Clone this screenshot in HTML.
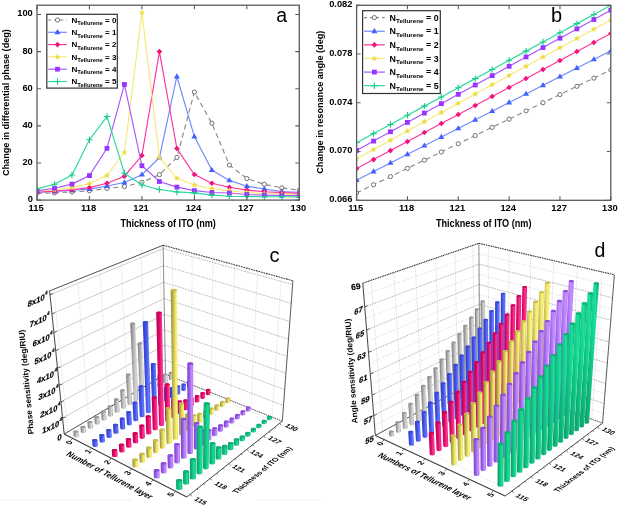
<!DOCTYPE html>
<html><head><meta charset="utf-8"><style>
html,body{margin:0;padding:0;background:#fff;width:620px;height:507px;overflow:hidden}
svg{display:block;filter:blur(0.25px)}
</style></head><body>
<svg width="620" height="507" viewBox="0 0 620 507" font-family='"Liberation Sans", sans-serif' fill="#000"><rect width="620" height="507" fill="#fff"/><g><clipPath id="clip37"><rect x="37" y="5.2" width="262.3" height="194.9"/></clipPath><g clip-path="url(#clip37)"><path d="M37.00,193.42L54.49,192.86L71.97,191.93L89.46,190.82L106.95,188.41L124.43,186.55L141.92,182.28L159.41,174.67L176.89,157.41L194.38,92.07L211.87,123.25L229.35,165.02L246.84,178.57L264.33,184.32L281.81,187.85L299.30,190.26" fill="none" stroke="#8a8a8a" stroke-width="1.15" stroke-dasharray="5,3.5"/><circle cx="37.00" cy="193.42" r="2.10" fill="#fff" stroke="#707070" stroke-width="1"/><circle cx="54.49" cy="192.86" r="2.10" fill="#fff" stroke="#707070" stroke-width="1"/><circle cx="71.97" cy="191.93" r="2.10" fill="#fff" stroke="#707070" stroke-width="1"/><circle cx="89.46" cy="190.82" r="2.10" fill="#fff" stroke="#707070" stroke-width="1"/><circle cx="106.95" cy="188.41" r="2.10" fill="#fff" stroke="#707070" stroke-width="1"/><circle cx="124.43" cy="186.55" r="2.10" fill="#fff" stroke="#707070" stroke-width="1"/><circle cx="141.92" cy="182.28" r="2.10" fill="#fff" stroke="#707070" stroke-width="1"/><circle cx="159.41" cy="174.67" r="2.10" fill="#fff" stroke="#707070" stroke-width="1"/><circle cx="176.89" cy="157.41" r="2.10" fill="#fff" stroke="#707070" stroke-width="1"/><circle cx="194.38" cy="92.07" r="2.10" fill="#fff" stroke="#707070" stroke-width="1"/><circle cx="211.87" cy="123.25" r="2.10" fill="#fff" stroke="#707070" stroke-width="1"/><circle cx="229.35" cy="165.02" r="2.10" fill="#fff" stroke="#707070" stroke-width="1"/><circle cx="246.84" cy="178.57" r="2.10" fill="#fff" stroke="#707070" stroke-width="1"/><circle cx="264.33" cy="184.32" r="2.10" fill="#fff" stroke="#707070" stroke-width="1"/><circle cx="281.81" cy="187.85" r="2.10" fill="#fff" stroke="#707070" stroke-width="1"/><circle cx="299.30" cy="190.26" r="2.10" fill="#fff" stroke="#707070" stroke-width="1"/><path d="M37.00,192.12L54.49,191.38L71.97,190.26L89.46,189.15L106.95,185.99L124.43,182.47L141.92,174.67L159.41,157.59L176.89,76.48L194.38,136.62L211.87,170.03L229.35,180.42L246.84,186.18L264.33,188.96L281.81,191.56L299.30,192.30" fill="none" stroke="#7088ff" stroke-width="1.15"/><path d="M37.00,188.92L40.04,194.04L33.96,194.04Z" fill="#4060ff"/><path d="M54.49,188.18L57.53,193.30L51.45,193.30Z" fill="#4060ff"/><path d="M71.97,187.06L75.01,192.18L68.93,192.18Z" fill="#4060ff"/><path d="M89.46,185.95L92.50,191.07L86.42,191.07Z" fill="#4060ff"/><path d="M106.95,182.79L109.99,187.91L103.91,187.91Z" fill="#4060ff"/><path d="M124.43,179.27L127.47,184.39L121.39,184.39Z" fill="#4060ff"/><path d="M141.92,171.47L144.96,176.59L138.88,176.59Z" fill="#4060ff"/><path d="M159.41,154.39L162.45,159.51L156.37,159.51Z" fill="#4060ff"/><path d="M176.89,73.28L179.93,78.40L173.85,78.40Z" fill="#4060ff"/><path d="M194.38,133.42L197.42,138.54L191.34,138.54Z" fill="#4060ff"/><path d="M211.87,166.83L214.91,171.95L208.83,171.95Z" fill="#4060ff"/><path d="M229.35,177.22L232.39,182.34L226.31,182.34Z" fill="#4060ff"/><path d="M246.84,182.98L249.88,188.10L243.80,188.10Z" fill="#4060ff"/><path d="M264.33,185.76L267.37,190.88L261.29,190.88Z" fill="#4060ff"/><path d="M281.81,188.36L284.85,193.48L278.77,193.48Z" fill="#4060ff"/><path d="M299.30,189.10L302.34,194.22L296.26,194.22Z" fill="#4060ff"/><path d="M37.00,192.30L54.49,191.19L71.97,189.71L89.46,187.66L106.95,183.21L124.43,176.16L141.92,155.55L159.41,51.60L176.89,148.50L194.38,174.48L211.87,183.21L229.35,187.29L246.84,190.08L264.33,191.75L281.81,192.68L299.30,193.42" fill="none" stroke="#ff3399" stroke-width="1.15"/><path d="M37.00,189.50L39.80,192.30L37.00,195.10L34.20,192.30Z" fill="#f0147f"/><path d="M54.49,188.39L57.29,191.19L54.49,193.99L51.69,191.19Z" fill="#f0147f"/><path d="M71.97,186.91L74.77,189.71L71.97,192.51L69.17,189.71Z" fill="#f0147f"/><path d="M89.46,184.86L92.26,187.66L89.46,190.46L86.66,187.66Z" fill="#f0147f"/><path d="M106.95,180.41L109.75,183.21L106.95,186.01L104.15,183.21Z" fill="#f0147f"/><path d="M124.43,173.36L127.23,176.16L124.43,178.96L121.63,176.16Z" fill="#f0147f"/><path d="M141.92,152.75L144.72,155.55L141.92,158.35L139.12,155.55Z" fill="#f0147f"/><path d="M159.41,48.80L162.21,51.60L159.41,54.40L156.61,51.60Z" fill="#f0147f"/><path d="M176.89,145.70L179.69,148.50L176.89,151.30L174.09,148.50Z" fill="#f0147f"/><path d="M194.38,171.68L197.18,174.48L194.38,177.28L191.58,174.48Z" fill="#f0147f"/><path d="M211.87,180.41L214.67,183.21L211.87,186.01L209.07,183.21Z" fill="#f0147f"/><path d="M229.35,184.49L232.15,187.29L229.35,190.09L226.55,187.29Z" fill="#f0147f"/><path d="M246.84,187.28L249.64,190.08L246.84,192.88L244.04,190.08Z" fill="#f0147f"/><path d="M264.33,188.95L267.13,191.75L264.33,194.55L261.53,191.75Z" fill="#f0147f"/><path d="M281.81,189.88L284.61,192.68L281.81,195.48L279.01,192.68Z" fill="#f0147f"/><path d="M299.30,190.62L302.10,193.42L299.30,196.22L296.50,193.42Z" fill="#f0147f"/><path d="M37.00,191.19L54.49,189.71L71.97,187.66L89.46,183.77L106.95,175.60L124.43,152.40L141.92,12.62L159.41,157.59L176.89,178.20L194.38,185.06L211.87,188.78L229.35,190.82L246.84,192.49L264.33,193.60L281.81,194.16L299.30,194.53" fill="none" stroke="#f4ea78" stroke-width="1.15"/><path d="M37.00,187.89L37.87,189.99L40.14,190.17L38.41,191.65L38.94,193.86L37.00,192.68L35.06,193.86L35.59,191.65L33.86,190.17L36.13,189.99Z" fill="#eedd44"/><path d="M54.49,186.41L55.36,188.50L57.63,188.69L55.90,190.16L56.43,192.38L54.49,191.19L52.55,192.38L53.07,190.16L51.35,188.69L53.61,188.50Z" fill="#eedd44"/><path d="M71.97,184.36L72.85,186.46L75.11,186.64L73.39,188.12L73.91,190.33L71.97,189.15L70.03,190.33L70.56,188.12L68.83,186.64L71.10,186.46Z" fill="#eedd44"/><path d="M89.46,180.47L90.33,182.56L92.60,182.75L90.87,184.22L91.40,186.44L89.46,185.25L87.52,186.44L88.05,184.22L86.32,182.75L88.59,182.56Z" fill="#eedd44"/><path d="M106.95,172.30L107.82,174.40L110.09,174.58L108.36,176.06L108.89,178.27L106.95,177.08L105.01,178.27L105.53,176.06L103.81,174.58L106.07,174.40Z" fill="#eedd44"/><path d="M124.43,149.10L125.31,151.19L127.57,151.38L125.85,152.85L126.37,155.07L124.43,153.88L122.49,155.07L123.02,152.85L121.29,151.38L123.56,151.19Z" fill="#eedd44"/><path d="M141.92,9.32L142.79,11.42L145.06,11.61L143.33,13.08L143.86,15.29L141.92,14.11L139.98,15.29L140.51,13.08L138.78,11.61L141.05,11.42Z" fill="#eedd44"/><path d="M159.41,154.29L160.28,156.39L162.55,156.57L160.82,158.05L161.35,160.26L159.41,159.08L157.47,160.26L157.99,158.05L156.27,156.57L158.53,156.39Z" fill="#eedd44"/><path d="M176.89,174.90L177.77,177.00L180.03,177.18L178.31,178.66L178.83,180.87L176.89,179.68L174.95,180.87L175.48,178.66L173.75,177.18L176.02,177.00Z" fill="#eedd44"/><path d="M194.38,181.76L195.25,183.86L197.52,184.05L195.79,185.52L196.32,187.73L194.38,186.55L192.44,187.73L192.97,185.52L191.24,184.05L193.51,183.86Z" fill="#eedd44"/><path d="M211.87,185.48L212.74,187.58L215.01,187.76L213.28,189.24L213.81,191.45L211.87,190.26L209.93,191.45L210.45,189.24L208.73,187.76L210.99,187.58Z" fill="#eedd44"/><path d="M229.35,187.52L230.23,189.62L232.49,189.80L230.77,191.28L231.29,193.49L229.35,192.30L227.41,193.49L227.94,191.28L226.21,189.80L228.48,189.62Z" fill="#eedd44"/><path d="M246.84,189.19L247.71,191.29L249.98,191.47L248.25,192.95L248.78,195.16L246.84,193.97L244.90,195.16L245.43,192.95L243.70,191.47L245.97,191.29Z" fill="#eedd44"/><path d="M264.33,190.30L265.20,192.40L267.47,192.58L265.74,194.06L266.27,196.27L264.33,195.09L262.39,196.27L262.91,194.06L261.19,192.58L263.45,192.40Z" fill="#eedd44"/><path d="M281.81,190.86L282.69,192.96L284.95,193.14L283.23,194.62L283.75,196.83L281.81,195.65L279.87,196.83L280.40,194.62L278.67,193.14L280.94,192.96Z" fill="#eedd44"/><path d="M299.30,191.23L300.17,193.33L302.44,193.51L300.71,194.99L301.24,197.20L299.30,196.02L297.36,197.20L297.89,194.99L296.16,193.51L298.43,193.33Z" fill="#eedd44"/><path d="M37.00,190.82L54.49,188.22L71.97,184.14L89.46,175.60L106.95,148.31L124.43,84.46L141.92,165.76L159.41,181.54L176.89,187.11L194.38,190.63L211.87,192.49L229.35,193.05L246.84,194.53L264.33,195.09L281.81,195.46L299.30,195.65" fill="none" stroke="#a855ff" stroke-width="1.15"/><rect x="34.60" y="188.42" width="4.80" height="4.80" fill="#9933ff"/><rect x="52.09" y="185.82" width="4.80" height="4.80" fill="#9933ff"/><rect x="69.57" y="181.74" width="4.80" height="4.80" fill="#9933ff"/><rect x="87.06" y="173.20" width="4.80" height="4.80" fill="#9933ff"/><rect x="104.55" y="145.91" width="4.80" height="4.80" fill="#9933ff"/><rect x="122.03" y="82.06" width="4.80" height="4.80" fill="#9933ff"/><rect x="139.52" y="163.36" width="4.80" height="4.80" fill="#9933ff"/><rect x="157.01" y="179.14" width="4.80" height="4.80" fill="#9933ff"/><rect x="174.49" y="184.71" width="4.80" height="4.80" fill="#9933ff"/><rect x="191.98" y="188.23" width="4.80" height="4.80" fill="#9933ff"/><rect x="209.47" y="190.09" width="4.80" height="4.80" fill="#9933ff"/><rect x="226.95" y="190.65" width="4.80" height="4.80" fill="#9933ff"/><rect x="244.44" y="192.13" width="4.80" height="4.80" fill="#9933ff"/><rect x="261.93" y="192.69" width="4.80" height="4.80" fill="#9933ff"/><rect x="279.41" y="193.06" width="4.80" height="4.80" fill="#9933ff"/><rect x="296.90" y="193.25" width="4.80" height="4.80" fill="#9933ff"/><path d="M37.00,188.96L54.49,184.32L71.97,175.04L89.46,139.77L106.95,116.57L124.43,173.19L141.92,185.06L159.41,189.52L176.89,191.93L194.38,192.86L211.87,195.09L229.35,196.20L246.84,196.57L264.33,196.76L281.81,196.76L299.30,196.94" fill="none" stroke="#2ad9a0" stroke-width="1.15"/><path d="M33.80,188.96H40.20M37.00,185.76V192.16" stroke="#18c98a" stroke-width="1.1" fill="none"/><path d="M51.29,184.32H57.69M54.49,181.12V187.52" stroke="#18c98a" stroke-width="1.1" fill="none"/><path d="M68.77,175.04H75.17M71.97,171.84V178.24" stroke="#18c98a" stroke-width="1.1" fill="none"/><path d="M86.26,139.77H92.66M89.46,136.57V142.97" stroke="#18c98a" stroke-width="1.1" fill="none"/><path d="M103.75,116.57H110.15M106.95,113.37V119.77" stroke="#18c98a" stroke-width="1.1" fill="none"/><path d="M121.23,173.19H127.63M124.43,169.99V176.39" stroke="#18c98a" stroke-width="1.1" fill="none"/><path d="M138.72,185.06H145.12M141.92,181.86V188.26" stroke="#18c98a" stroke-width="1.1" fill="none"/><path d="M156.21,189.52H162.61M159.41,186.32V192.72" stroke="#18c98a" stroke-width="1.1" fill="none"/><path d="M173.69,191.93H180.09M176.89,188.73V195.13" stroke="#18c98a" stroke-width="1.1" fill="none"/><path d="M191.18,192.86H197.58M194.38,189.66V196.06" stroke="#18c98a" stroke-width="1.1" fill="none"/><path d="M208.67,195.09H215.07M211.87,191.89V198.29" stroke="#18c98a" stroke-width="1.1" fill="none"/><path d="M226.15,196.20H232.55M229.35,193.00V199.40" stroke="#18c98a" stroke-width="1.1" fill="none"/><path d="M243.64,196.57H250.04M246.84,193.37V199.77" stroke="#18c98a" stroke-width="1.1" fill="none"/><path d="M261.13,196.76H267.53M264.33,193.56V199.96" stroke="#18c98a" stroke-width="1.1" fill="none"/><path d="M278.61,196.76H285.01M281.81,193.56V199.96" stroke="#18c98a" stroke-width="1.1" fill="none"/><path d="M296.10,196.94H302.50M299.30,193.74V200.14" stroke="#18c98a" stroke-width="1.1" fill="none"/></g><rect x="37" y="5.2" width="262.3" height="194.9" fill="none" stroke="#5c5c5c" stroke-width="1.3"/><text x="36.10" y="210.7" text-anchor="middle" font-size="9.4" font-weight="bold">115</text><text x="88.56" y="210.7" text-anchor="middle" font-size="9.4" font-weight="bold">118</text><text x="141.02" y="210.7" text-anchor="middle" font-size="9.4" font-weight="bold">121</text><text x="193.48" y="210.7" text-anchor="middle" font-size="9.4" font-weight="bold">124</text><text x="245.94" y="210.7" text-anchor="middle" font-size="9.4" font-weight="bold">127</text><text x="298.40" y="210.7" text-anchor="middle" font-size="9.4" font-weight="bold">130</text><text x="32.80" y="202.00" text-anchor="end" font-size="9.3" font-weight="bold">0</text><text x="32.80" y="164.88" text-anchor="end" font-size="9.3" font-weight="bold">20</text><text x="32.80" y="127.75" text-anchor="end" font-size="9.3" font-weight="bold">40</text><text x="32.80" y="90.63" text-anchor="end" font-size="9.3" font-weight="bold">60</text><text x="32.80" y="53.50" text-anchor="end" font-size="9.3" font-weight="bold">80</text><text x="32.80" y="16.38" text-anchor="end" font-size="9.3" font-weight="bold">100</text><path d="M37.00,200.1v-4M37.00,5.2v4M89.46,200.1v-4M89.46,5.2v4M141.92,200.1v-4M141.92,5.2v4M194.38,200.1v-4M194.38,5.2v4M246.84,200.1v-4M246.84,5.2v4M299.30,200.1v-4M299.30,5.2v4M37,200.10h4M299.3,200.10h-4M37,162.98h4M299.3,162.98h-4M37,125.85h4M299.3,125.85h-4M37,88.73h4M299.3,88.73h-4M37,51.60h4M299.3,51.60h-4M37,14.48h4M299.3,14.48h-4" stroke="#5c5c5c" stroke-width="1.1"/><text x="168.15" y="227.2" text-anchor="middle" font-size="10" font-weight="bold" textLength="95.5" lengthAdjust="spacingAndGlyphs">Thickness of ITO (nm)</text><text transform="translate(8.9,102.6) rotate(-90)" x="0" y="0" text-anchor="middle" font-size="9.4" font-weight="bold" textLength="147" lengthAdjust="spacingAndGlyphs">Change in differential phase (deg)</text><rect x="46.8" y="14.3" width="70.5" height="73.8" fill="#fff" stroke="#333" stroke-width="1.2"/><path d="M48.2,20.00H66.8" stroke="#8a8a8a" stroke-width="1.2" stroke-dasharray="3,3"/><circle cx="57.50" cy="20.00" r="2.10" fill="#fff" stroke="#707070" stroke-width="1"/><text x="71.5" y="22.88" font-size="8.0" font-weight="bold" textLength="45" lengthAdjust="spacingAndGlyphs">N<tspan font-size="5.8" dy="2.40">Tellurene</tspan><tspan dy="-2.40"> = 0</tspan></text><path d="M48.2,32.30H66.8" stroke="#7088ff" stroke-width="1.2"/><path d="M57.50,29.10L60.54,34.22L54.46,34.22Z" fill="#4060ff"/><text x="71.5" y="35.18" font-size="8.0" font-weight="bold" textLength="45" lengthAdjust="spacingAndGlyphs">N<tspan font-size="5.8" dy="2.40">Tellurene</tspan><tspan dy="-2.40"> = 1</tspan></text><path d="M48.2,44.60H66.8" stroke="#ff3399" stroke-width="1.2"/><path d="M57.50,41.80L60.30,44.60L57.50,47.40L54.70,44.60Z" fill="#f0147f"/><text x="71.5" y="47.48" font-size="8.0" font-weight="bold" textLength="45" lengthAdjust="spacingAndGlyphs">N<tspan font-size="5.8" dy="2.40">Tellurene</tspan><tspan dy="-2.40"> = 2</tspan></text><path d="M48.2,56.90H66.8" stroke="#f4ea78" stroke-width="1.2"/><path d="M57.50,53.60L58.37,55.70L60.64,55.88L58.91,57.36L59.44,59.57L57.50,58.39L55.56,59.57L56.09,57.36L54.36,55.88L56.63,55.70Z" fill="#eedd44"/><text x="71.5" y="59.78" font-size="8.0" font-weight="bold" textLength="45" lengthAdjust="spacingAndGlyphs">N<tspan font-size="5.8" dy="2.40">Tellurene</tspan><tspan dy="-2.40"> = 3</tspan></text><path d="M48.2,69.20H66.8" stroke="#a855ff" stroke-width="1.2"/><rect x="55.10" y="66.80" width="4.80" height="4.80" fill="#9933ff"/><text x="71.5" y="72.08" font-size="8.0" font-weight="bold" textLength="45" lengthAdjust="spacingAndGlyphs">N<tspan font-size="5.8" dy="2.40">Tellurene</tspan><tspan dy="-2.40"> = 4</tspan></text><path d="M48.2,81.50H66.8" stroke="#2ad9a0" stroke-width="1.2"/><path d="M54.30,81.50H60.70M57.50,78.30V84.70" stroke="#18c98a" stroke-width="1.1" fill="none"/><text x="71.5" y="84.38" font-size="8.0" font-weight="bold" textLength="45" lengthAdjust="spacingAndGlyphs">N<tspan font-size="5.8" dy="2.40">Tellurene</tspan><tspan dy="-2.40"> = 5</tspan></text><text x="276.2" y="21.8" font-size="19.5">a</text></g><g><clipPath id="clip356"><rect x="356.6" y="5.3" width="254.19999999999993" height="195.0"/></clipPath><g clip-path="url(#clip356)"><path d="M356.60,192.99L373.55,184.78L390.49,176.58L407.44,168.37L424.39,160.16L441.33,151.96L458.28,143.75L475.23,135.54L492.17,127.34L509.12,119.13L526.07,110.93L543.01,102.72L559.96,94.51L576.91,86.31L593.85,78.10L610.80,69.89" fill="none" stroke="#8a8a8a" stroke-width="1.15" stroke-dasharray="5,3.5"/><circle cx="356.60" cy="192.99" r="2.10" fill="#fff" stroke="#707070" stroke-width="1"/><circle cx="373.55" cy="184.78" r="2.10" fill="#fff" stroke="#707070" stroke-width="1"/><circle cx="390.49" cy="176.58" r="2.10" fill="#fff" stroke="#707070" stroke-width="1"/><circle cx="407.44" cy="168.37" r="2.10" fill="#fff" stroke="#707070" stroke-width="1"/><circle cx="424.39" cy="160.16" r="2.10" fill="#fff" stroke="#707070" stroke-width="1"/><circle cx="441.33" cy="151.96" r="2.10" fill="#fff" stroke="#707070" stroke-width="1"/><circle cx="458.28" cy="143.75" r="2.10" fill="#fff" stroke="#707070" stroke-width="1"/><circle cx="475.23" cy="135.54" r="2.10" fill="#fff" stroke="#707070" stroke-width="1"/><circle cx="492.17" cy="127.34" r="2.10" fill="#fff" stroke="#707070" stroke-width="1"/><circle cx="509.12" cy="119.13" r="2.10" fill="#fff" stroke="#707070" stroke-width="1"/><circle cx="526.07" cy="110.93" r="2.10" fill="#fff" stroke="#707070" stroke-width="1"/><circle cx="543.01" cy="102.72" r="2.10" fill="#fff" stroke="#707070" stroke-width="1"/><circle cx="559.96" cy="94.51" r="2.10" fill="#fff" stroke="#707070" stroke-width="1"/><circle cx="576.91" cy="86.31" r="2.10" fill="#fff" stroke="#707070" stroke-width="1"/><circle cx="593.85" cy="78.10" r="2.10" fill="#fff" stroke="#707070" stroke-width="1"/><circle cx="610.80" cy="69.89" r="2.10" fill="#fff" stroke="#707070" stroke-width="1"/><path d="M356.60,180.19L373.55,171.56L390.49,162.93L407.44,154.30L424.39,145.68L441.33,137.05L458.28,128.42L475.23,119.79L492.17,111.16L509.12,102.53L526.07,93.90L543.01,85.27L559.96,76.65L576.91,68.02L593.85,59.39L610.80,50.76" fill="none" stroke="#7088ff" stroke-width="1.15"/><path d="M356.60,176.99L359.64,182.11L353.56,182.11Z" fill="#4060ff"/><path d="M373.55,168.36L376.59,173.48L370.51,173.48Z" fill="#4060ff"/><path d="M390.49,159.73L393.53,164.85L387.45,164.85Z" fill="#4060ff"/><path d="M407.44,151.10L410.48,156.22L404.40,156.22Z" fill="#4060ff"/><path d="M424.39,142.48L427.43,147.60L421.35,147.60Z" fill="#4060ff"/><path d="M441.33,133.85L444.37,138.97L438.29,138.97Z" fill="#4060ff"/><path d="M458.28,125.22L461.32,130.34L455.24,130.34Z" fill="#4060ff"/><path d="M475.23,116.59L478.27,121.71L472.19,121.71Z" fill="#4060ff"/><path d="M492.17,107.96L495.21,113.08L489.13,113.08Z" fill="#4060ff"/><path d="M509.12,99.33L512.16,104.45L506.08,104.45Z" fill="#4060ff"/><path d="M526.07,90.70L529.11,95.82L523.03,95.82Z" fill="#4060ff"/><path d="M543.01,82.07L546.05,87.19L539.97,87.19Z" fill="#4060ff"/><path d="M559.96,73.45L563.00,78.57L556.92,78.57Z" fill="#4060ff"/><path d="M576.91,64.82L579.95,69.94L573.87,69.94Z" fill="#4060ff"/><path d="M593.85,56.19L596.89,61.31L590.81,61.31Z" fill="#4060ff"/><path d="M610.80,47.56L613.84,52.68L607.76,52.68Z" fill="#4060ff"/><path d="M356.60,168.61L373.55,159.60L390.49,150.59L407.44,141.58L424.39,132.57L441.33,123.56L458.28,114.55L475.23,105.54L492.17,96.53L509.12,87.52L526.07,78.51L543.01,69.50L559.96,60.49L576.91,51.47L593.85,42.46L610.80,33.45" fill="none" stroke="#ff3399" stroke-width="1.15"/><path d="M356.60,165.81L359.40,168.61L356.60,171.41L353.80,168.61Z" fill="#f0147f"/><path d="M373.55,156.80L376.35,159.60L373.55,162.40L370.75,159.60Z" fill="#f0147f"/><path d="M390.49,147.79L393.29,150.59L390.49,153.39L387.69,150.59Z" fill="#f0147f"/><path d="M407.44,138.78L410.24,141.58L407.44,144.38L404.64,141.58Z" fill="#f0147f"/><path d="M424.39,129.77L427.19,132.57L424.39,135.37L421.59,132.57Z" fill="#f0147f"/><path d="M441.33,120.76L444.13,123.56L441.33,126.36L438.53,123.56Z" fill="#f0147f"/><path d="M458.28,111.75L461.08,114.55L458.28,117.35L455.48,114.55Z" fill="#f0147f"/><path d="M475.23,102.74L478.03,105.54L475.23,108.34L472.43,105.54Z" fill="#f0147f"/><path d="M492.17,93.73L494.97,96.53L492.17,99.33L489.37,96.53Z" fill="#f0147f"/><path d="M509.12,84.72L511.92,87.52L509.12,90.32L506.32,87.52Z" fill="#f0147f"/><path d="M526.07,75.71L528.87,78.51L526.07,81.31L523.27,78.51Z" fill="#f0147f"/><path d="M543.01,66.70L545.81,69.50L543.01,72.30L540.21,69.50Z" fill="#f0147f"/><path d="M559.96,57.69L562.76,60.49L559.96,63.29L557.16,60.49Z" fill="#f0147f"/><path d="M576.91,48.67L579.71,51.47L576.91,54.27L574.11,51.47Z" fill="#f0147f"/><path d="M593.85,39.66L596.65,42.46L593.85,45.26L591.05,42.46Z" fill="#f0147f"/><path d="M610.80,30.65L613.60,33.45L610.80,36.25L608.00,33.45Z" fill="#f0147f"/><path d="M356.60,158.86L373.55,149.60L390.49,140.34L407.44,131.07L424.39,121.81L441.33,112.55L458.28,103.29L475.23,94.03L492.17,84.76L509.12,75.50L526.07,66.24L543.01,56.98L559.96,47.71L576.91,38.45L593.85,29.19L610.80,19.93" fill="none" stroke="#f4ea78" stroke-width="1.15"/><path d="M356.60,155.56L357.47,157.66L359.74,157.84L358.01,159.32L358.54,161.53L356.60,160.35L354.66,161.53L355.19,159.32L353.46,157.84L355.73,157.66Z" fill="#eedd44"/><path d="M373.55,146.30L374.42,148.40L376.69,148.58L374.96,150.06L375.49,152.27L373.55,151.09L371.61,152.27L372.13,150.06L370.41,148.58L372.67,148.40Z" fill="#eedd44"/><path d="M390.49,137.04L391.37,139.14L393.63,139.32L391.91,140.80L392.43,143.01L390.49,141.82L388.55,143.01L389.08,140.80L387.35,139.32L389.62,139.14Z" fill="#eedd44"/><path d="M407.44,127.77L408.31,129.87L410.58,130.06L408.85,131.53L409.38,133.74L407.44,132.56L405.50,133.74L406.03,131.53L404.30,130.06L406.57,129.87Z" fill="#eedd44"/><path d="M424.39,118.51L425.26,120.61L427.53,120.79L425.80,122.27L426.33,124.48L424.39,123.30L422.45,124.48L422.97,122.27L421.25,120.79L423.51,120.61Z" fill="#eedd44"/><path d="M441.33,109.25L442.21,111.35L444.47,111.53L442.75,113.01L443.27,115.22L441.33,114.04L439.39,115.22L439.92,113.01L438.19,111.53L440.46,111.35Z" fill="#eedd44"/><path d="M458.28,99.99L459.15,102.09L461.42,102.27L459.69,103.75L460.22,105.96L458.28,104.77L456.34,105.96L456.87,103.75L455.14,102.27L457.41,102.09Z" fill="#eedd44"/><path d="M475.23,90.73L476.10,92.82L478.37,93.01L476.64,94.48L477.17,96.69L475.23,95.51L473.29,96.69L473.81,94.48L472.09,93.01L474.35,92.82Z" fill="#eedd44"/><path d="M492.17,81.46L493.05,83.56L495.31,83.74L493.59,85.22L494.11,87.43L492.17,86.25L490.23,87.43L490.76,85.22L489.03,83.74L491.30,83.56Z" fill="#eedd44"/><path d="M509.12,72.20L509.99,74.30L512.26,74.48L510.53,75.96L511.06,78.17L509.12,76.99L507.18,78.17L507.71,75.96L505.98,74.48L508.25,74.30Z" fill="#eedd44"/><path d="M526.07,62.94L526.94,65.04L529.21,65.22L527.48,66.70L528.01,68.91L526.07,67.72L524.13,68.91L524.65,66.70L522.93,65.22L525.19,65.04Z" fill="#eedd44"/><path d="M543.01,53.68L543.89,55.77L546.15,55.96L544.43,57.43L544.95,59.64L543.01,58.46L541.07,59.64L541.60,57.43L539.87,55.96L542.14,55.77Z" fill="#eedd44"/><path d="M559.96,44.41L560.83,46.51L563.10,46.69L561.37,48.17L561.90,50.38L559.96,49.20L558.02,50.38L558.55,48.17L556.82,46.69L559.09,46.51Z" fill="#eedd44"/><path d="M576.91,35.15L577.78,37.25L580.05,37.43L578.32,38.91L578.85,41.12L576.91,39.94L574.97,41.12L575.49,38.91L573.77,37.43L576.03,37.25Z" fill="#eedd44"/><path d="M593.85,25.89L594.73,27.99L596.99,28.17L595.27,29.65L595.79,31.86L593.85,30.67L591.91,31.86L592.44,29.65L590.71,28.17L592.98,27.99Z" fill="#eedd44"/><path d="M610.80,16.63L611.67,18.72L613.94,18.91L612.21,20.38L612.74,22.59L610.80,21.41L608.86,22.59L609.39,20.38L607.66,18.91L609.93,18.72Z" fill="#eedd44"/><path d="M356.60,150.45L373.55,141.10L390.49,131.75L407.44,122.40L424.39,113.05L441.33,103.69L458.28,94.34L475.23,84.99L492.17,75.64L509.12,66.29L526.07,56.93L543.01,47.58L559.96,38.23L576.91,28.88L593.85,19.53L610.80,10.17" fill="none" stroke="#a855ff" stroke-width="1.15"/><rect x="354.20" y="148.05" width="4.80" height="4.80" fill="#9933ff"/><rect x="371.15" y="138.70" width="4.80" height="4.80" fill="#9933ff"/><rect x="388.09" y="129.35" width="4.80" height="4.80" fill="#9933ff"/><rect x="405.04" y="120.00" width="4.80" height="4.80" fill="#9933ff"/><rect x="421.99" y="110.65" width="4.80" height="4.80" fill="#9933ff"/><rect x="438.93" y="101.29" width="4.80" height="4.80" fill="#9933ff"/><rect x="455.88" y="91.94" width="4.80" height="4.80" fill="#9933ff"/><rect x="472.83" y="82.59" width="4.80" height="4.80" fill="#9933ff"/><rect x="489.77" y="73.24" width="4.80" height="4.80" fill="#9933ff"/><rect x="506.72" y="63.89" width="4.80" height="4.80" fill="#9933ff"/><rect x="523.67" y="54.53" width="4.80" height="4.80" fill="#9933ff"/><rect x="540.61" y="45.18" width="4.80" height="4.80" fill="#9933ff"/><rect x="557.56" y="35.83" width="4.80" height="4.80" fill="#9933ff"/><rect x="574.51" y="26.48" width="4.80" height="4.80" fill="#9933ff"/><rect x="591.45" y="17.13" width="4.80" height="4.80" fill="#9933ff"/><rect x="608.40" y="7.77" width="4.80" height="4.80" fill="#9933ff"/><path d="M356.60,142.77L373.55,133.61L390.49,124.44L407.44,115.28L424.39,106.12L441.33,96.95L458.28,87.78L475.23,78.62L492.17,69.46L509.12,60.29L526.07,51.12L543.01,41.96L559.96,32.79L576.91,23.63L593.85,14.47L610.80,5.30" fill="none" stroke="#2ad9a0" stroke-width="1.15"/><path d="M353.40,142.77H359.80M356.60,139.57V145.97" stroke="#18c98a" stroke-width="1.1" fill="none"/><path d="M370.35,133.61H376.75M373.55,130.41V136.81" stroke="#18c98a" stroke-width="1.1" fill="none"/><path d="M387.29,124.44H393.69M390.49,121.24V127.64" stroke="#18c98a" stroke-width="1.1" fill="none"/><path d="M404.24,115.28H410.64M407.44,112.08V118.48" stroke="#18c98a" stroke-width="1.1" fill="none"/><path d="M421.19,106.12H427.59M424.39,102.92V109.32" stroke="#18c98a" stroke-width="1.1" fill="none"/><path d="M438.13,96.95H444.53M441.33,93.75V100.15" stroke="#18c98a" stroke-width="1.1" fill="none"/><path d="M455.08,87.78H461.48M458.28,84.58V90.98" stroke="#18c98a" stroke-width="1.1" fill="none"/><path d="M472.03,78.62H478.43M475.23,75.42V81.82" stroke="#18c98a" stroke-width="1.1" fill="none"/><path d="M488.97,69.46H495.37M492.17,66.26V72.66" stroke="#18c98a" stroke-width="1.1" fill="none"/><path d="M505.92,60.29H512.32M509.12,57.09V63.49" stroke="#18c98a" stroke-width="1.1" fill="none"/><path d="M522.87,51.12H529.27M526.07,47.92V54.33" stroke="#18c98a" stroke-width="1.1" fill="none"/><path d="M539.81,41.96H546.21M543.01,38.76V45.16" stroke="#18c98a" stroke-width="1.1" fill="none"/><path d="M556.76,32.79H563.16M559.96,29.59V35.99" stroke="#18c98a" stroke-width="1.1" fill="none"/><path d="M573.71,23.63H580.11M576.91,20.43V26.83" stroke="#18c98a" stroke-width="1.1" fill="none"/><path d="M590.65,14.47H597.05M593.85,11.27V17.67" stroke="#18c98a" stroke-width="1.1" fill="none"/><path d="M607.60,5.30H614.00M610.80,2.10V8.50" stroke="#18c98a" stroke-width="1.1" fill="none"/></g><rect x="356.6" y="5.3" width="254.19999999999993" height="195.0" fill="none" stroke="#5c5c5c" stroke-width="1.3"/><text x="355.70" y="210.7" text-anchor="middle" font-size="9.4" font-weight="bold">115</text><text x="406.54" y="210.7" text-anchor="middle" font-size="9.4" font-weight="bold">118</text><text x="457.38" y="210.7" text-anchor="middle" font-size="9.4" font-weight="bold">121</text><text x="508.22" y="210.7" text-anchor="middle" font-size="9.4" font-weight="bold">124</text><text x="559.06" y="210.7" text-anchor="middle" font-size="9.4" font-weight="bold">127</text><text x="609.90" y="210.7" text-anchor="middle" font-size="9.4" font-weight="bold">130</text><text x="352.40" y="202.20" text-anchor="end" font-size="9.3" font-weight="bold">0.066</text><text x="352.40" y="153.45" text-anchor="end" font-size="9.3" font-weight="bold">0.070</text><text x="352.40" y="104.70" text-anchor="end" font-size="9.3" font-weight="bold">0.074</text><text x="352.40" y="55.95" text-anchor="end" font-size="9.3" font-weight="bold">0.078</text><text x="352.40" y="7.20" text-anchor="end" font-size="9.3" font-weight="bold">0.082</text><path d="M356.60,200.3v-4M356.60,5.3v4M407.44,200.3v-4M407.44,5.3v4M458.28,200.3v-4M458.28,5.3v4M509.12,200.3v-4M509.12,5.3v4M559.96,200.3v-4M559.96,5.3v4M610.80,200.3v-4M610.80,5.3v4M356.6,200.30h4M610.8,200.30h-4M356.6,151.55h4M610.8,151.55h-4M356.6,102.80h4M610.8,102.80h-4M356.6,54.05h4M610.8,54.05h-4M356.6,5.30h4M610.8,5.30h-4" stroke="#5c5c5c" stroke-width="1.1"/><text x="483.70" y="227.2" text-anchor="middle" font-size="10" font-weight="bold" textLength="95.5" lengthAdjust="spacingAndGlyphs">Thickness of ITO (nm)</text><text transform="translate(322.7,102.2) rotate(-90)" x="0" y="0" text-anchor="middle" font-size="9.6" font-weight="bold" textLength="143" lengthAdjust="spacingAndGlyphs">Change in resonance angle (deg)</text><rect x="362.6" y="10.7" width="77.69999999999999" height="82.8" fill="#fff" stroke="#333" stroke-width="1.2"/><path d="M364.0,17.60H384.8" stroke="#8a8a8a" stroke-width="1.2" stroke-dasharray="3,3"/><circle cx="374.40" cy="17.60" r="2.10" fill="#fff" stroke="#707070" stroke-width="1"/><text x="389.6" y="20.73" font-size="8.7" font-weight="bold" textLength="49" lengthAdjust="spacingAndGlyphs">N<tspan font-size="6.2" dy="2.61">Tellurene</tspan><tspan dy="-2.61"> = 0</tspan></text><path d="M364.0,31.22H384.8" stroke="#7088ff" stroke-width="1.2"/><path d="M374.40,28.02L377.44,33.14L371.36,33.14Z" fill="#4060ff"/><text x="389.6" y="34.35" font-size="8.7" font-weight="bold" textLength="49" lengthAdjust="spacingAndGlyphs">N<tspan font-size="6.2" dy="2.61">Tellurene</tspan><tspan dy="-2.61"> = 1</tspan></text><path d="M364.0,44.84H384.8" stroke="#ff3399" stroke-width="1.2"/><path d="M374.40,42.04L377.20,44.84L374.40,47.64L371.60,44.84Z" fill="#f0147f"/><text x="389.6" y="47.97" font-size="8.7" font-weight="bold" textLength="49" lengthAdjust="spacingAndGlyphs">N<tspan font-size="6.2" dy="2.61">Tellurene</tspan><tspan dy="-2.61"> = 2</tspan></text><path d="M364.0,58.46H384.8" stroke="#f4ea78" stroke-width="1.2"/><path d="M374.40,55.16L375.27,57.26L377.54,57.44L375.81,58.92L376.34,61.13L374.40,59.95L372.46,61.13L372.99,58.92L371.26,57.44L373.53,57.26Z" fill="#eedd44"/><text x="389.6" y="61.59" font-size="8.7" font-weight="bold" textLength="49" lengthAdjust="spacingAndGlyphs">N<tspan font-size="6.2" dy="2.61">Tellurene</tspan><tspan dy="-2.61"> = 3</tspan></text><path d="M364.0,72.08H384.8" stroke="#a855ff" stroke-width="1.2"/><rect x="372.00" y="69.68" width="4.80" height="4.80" fill="#9933ff"/><text x="389.6" y="75.21" font-size="8.7" font-weight="bold" textLength="49" lengthAdjust="spacingAndGlyphs">N<tspan font-size="6.2" dy="2.61">Tellurene</tspan><tspan dy="-2.61"> = 4</tspan></text><path d="M364.0,85.70H384.8" stroke="#2ad9a0" stroke-width="1.2"/><path d="M371.20,85.70H377.60M374.40,82.50V88.90" stroke="#18c98a" stroke-width="1.1" fill="none"/><text x="389.6" y="88.83" font-size="8.7" font-weight="bold" textLength="49" lengthAdjust="spacingAndGlyphs">N<tspan font-size="6.2" dy="2.61">Tellurene</tspan><tspan dy="-2.61"> = 5</tspan></text><text x="551" y="21.8" font-size="20">b</text></g><defs><linearGradient id="bg0" x1="0" x2="1" y1="0" y2="0"><stop offset="0" stop-color="#787878"/><stop offset="0.4" stop-color="#b0b0b0"/><stop offset="0.75" stop-color="#dadada"/><stop offset="1" stop-color="#a2a2a2"/></linearGradient><linearGradient id="bg1" x1="0" x2="1" y1="0" y2="0"><stop offset="0" stop-color="#2c3cc8"/><stop offset="0.4" stop-color="#4050e0"/><stop offset="0.75" stop-color="#6678ff"/><stop offset="1" stop-color="#4a5cf0"/></linearGradient><linearGradient id="bg2" x1="0" x2="1" y1="0" y2="0"><stop offset="0" stop-color="#b4004c"/><stop offset="0.4" stop-color="#dc0866"/><stop offset="0.75" stop-color="#ff3492"/><stop offset="1" stop-color="#e81a78"/></linearGradient><linearGradient id="bg3" x1="0" x2="1" y1="0" y2="0"><stop offset="0" stop-color="#8e8a3e"/><stop offset="0.4" stop-color="#c8c050"/><stop offset="0.75" stop-color="#faf276"/><stop offset="1" stop-color="#eee460"/></linearGradient><linearGradient id="bg4" x1="0" x2="1" y1="0" y2="0"><stop offset="0" stop-color="#7a40c8"/><stop offset="0.4" stop-color="#9a5ee8"/><stop offset="0.75" stop-color="#c690ff"/><stop offset="1" stop-color="#b078f8"/></linearGradient><linearGradient id="bg5" x1="0" x2="1" y1="0" y2="0"><stop offset="0" stop-color="#0a9a62"/><stop offset="0.4" stop-color="#12c084"/><stop offset="0.75" stop-color="#16e69a"/><stop offset="1" stop-color="#0ca06a"/></linearGradient></defs><path d="M0,500.2H132M258,500.2H310M310,500.2H322" stroke="#f2f2f2" stroke-width="1"/><path d="M62.60,418.23L165.19,359.78" stroke="#c2c2c2" stroke-width="0.8" fill="none"/><path d="M60.94,401.98L164.92,345.00" stroke="#c2c2c2" stroke-width="0.8" fill="none"/><path d="M59.24,385.31L164.64,329.87" stroke="#c2c2c2" stroke-width="0.8" fill="none"/><path d="M57.49,368.18L164.36,314.39" stroke="#c2c2c2" stroke-width="0.8" fill="none"/><path d="M55.70,350.58L164.07,298.54" stroke="#c2c2c2" stroke-width="0.8" fill="none"/><path d="M53.86,332.50L163.77,282.32" stroke="#c2c2c2" stroke-width="0.8" fill="none"/><path d="M51.96,313.91L163.47,265.70" stroke="#c2c2c2" stroke-width="0.8" fill="none"/><path d="M50.01,294.79L163.16,248.67" stroke="#c2c2c2" stroke-width="0.8" fill="none"/><path d="M67.82,431.93L53.72,289.24" stroke="#c8c8c8" stroke-width="0.6" fill="none" stroke-dasharray="1,1"/><path d="M88.82,419.52L77.51,279.67" stroke="#c8c8c8" stroke-width="0.6" fill="none" stroke-dasharray="1,1"/><path d="M108.72,407.76L99.92,270.65" stroke="#c8c8c8" stroke-width="0.6" fill="none" stroke-dasharray="1,1"/><path d="M127.62,396.60L121.08,262.13" stroke="#c8c8c8" stroke-width="0.6" fill="none" stroke-dasharray="1,1"/><path d="M145.58,385.98L141.09,254.08" stroke="#c8c8c8" stroke-width="0.6" fill="none" stroke-dasharray="1,1"/><path d="M162.68,375.88L160.04,246.45" stroke="#c8c8c8" stroke-width="0.6" fill="none" stroke-dasharray="1,1"/><path d="M165.19,359.78L283.48,405.65" stroke="#a8a8a8" stroke-width="0.8" fill="none" stroke-dasharray="1.8,1"/><path d="M164.92,345.00L284.68,389.68" stroke="#a8a8a8" stroke-width="0.8" fill="none" stroke-dasharray="1.8,1"/><path d="M164.64,329.87L285.92,373.29" stroke="#a8a8a8" stroke-width="0.8" fill="none" stroke-dasharray="1.8,1"/><path d="M164.36,314.39L287.20,356.48" stroke="#a8a8a8" stroke-width="0.8" fill="none" stroke-dasharray="1.8,1"/><path d="M164.07,298.54L288.50,339.22" stroke="#a8a8a8" stroke-width="0.8" fill="none" stroke-dasharray="1.8,1"/><path d="M163.77,282.32L289.84,321.50" stroke="#a8a8a8" stroke-width="0.8" fill="none" stroke-dasharray="1.8,1"/><path d="M163.47,265.70L291.22,303.29" stroke="#a8a8a8" stroke-width="0.8" fill="none" stroke-dasharray="1.8,1"/><path d="M163.16,248.67L292.63,284.58" stroke="#a8a8a8" stroke-width="0.8" fill="none" stroke-dasharray="1.8,1"/><path d="M173.68,377.55L172.14,247.70" stroke="#c8c8c8" stroke-width="0.6" fill="none" stroke-dasharray="1,1"/><path d="M191.92,384.88L192.23,253.20" stroke="#c8c8c8" stroke-width="0.6" fill="none" stroke-dasharray="1,1"/><path d="M210.82,392.48L213.14,258.93" stroke="#c8c8c8" stroke-width="0.6" fill="none" stroke-dasharray="1,1"/><path d="M230.44,400.37L234.92,264.89" stroke="#c8c8c8" stroke-width="0.6" fill="none" stroke-dasharray="1,1"/><path d="M250.80,408.56L257.62,271.11" stroke="#c8c8c8" stroke-width="0.6" fill="none" stroke-dasharray="1,1"/><path d="M271.96,417.06L281.31,277.60" stroke="#c8c8c8" stroke-width="0.6" fill="none" stroke-dasharray="1,1"/><path d="M72.70,438.43L173.68,377.55" stroke="#d8d8d8" stroke-width="0.6" fill="none" stroke-dasharray="1.5,1"/><path d="M91.60,448.13L191.92,384.88" stroke="#d8d8d8" stroke-width="0.6" fill="none" stroke-dasharray="1.5,1"/><path d="M111.29,458.25L210.82,392.48" stroke="#d8d8d8" stroke-width="0.6" fill="none" stroke-dasharray="1.5,1"/><path d="M131.84,468.81L230.44,400.37" stroke="#d8d8d8" stroke-width="0.6" fill="none" stroke-dasharray="1.5,1"/><path d="M153.30,479.84L250.80,408.56" stroke="#d8d8d8" stroke-width="0.6" fill="none" stroke-dasharray="1.5,1"/><path d="M175.74,491.36L271.96,417.06" stroke="#d8d8d8" stroke-width="0.6" fill="none" stroke-dasharray="1.5,1"/><path d="M67.82,431.93L190.22,494.27" stroke="#d8d8d8" stroke-width="0.6" fill="none" stroke-dasharray="1.5,1"/><path d="M88.82,419.52L210.28,478.36" stroke="#d8d8d8" stroke-width="0.6" fill="none" stroke-dasharray="1.5,1"/><path d="M108.72,407.76L229.17,463.37" stroke="#d8d8d8" stroke-width="0.6" fill="none" stroke-dasharray="1.5,1"/><path d="M127.62,396.60L246.98,449.24" stroke="#d8d8d8" stroke-width="0.6" fill="none" stroke-dasharray="1.5,1"/><path d="M145.58,385.98L263.81,435.89" stroke="#d8d8d8" stroke-width="0.6" fill="none" stroke-dasharray="1.5,1"/><path d="M162.68,375.88L279.73,423.26" stroke="#d8d8d8" stroke-width="0.6" fill="none" stroke-dasharray="1.5,1"/><path d="M165.45,374.24L163.10,245.22" stroke="#8a8a8a" stroke-width="1.0" fill="none"/><path d="M64.21,434.06L165.45,374.24" stroke="#3a3a3a" stroke-width="0.9" fill="none"/><path d="M165.45,374.24L282.30,421.22" stroke="#3a3a3a" stroke-width="0.9" fill="none" stroke-dasharray="1.6,0.8"/><path d="M49.61,290.90L163.10,245.22" stroke="#505050" stroke-width="1.0" fill="none"/><path d="M163.10,245.22L292.92,280.78" stroke="#404040" stroke-width="1.1" fill="none" stroke-dasharray="1.8,0.8"/><path d="M282.30,421.22L292.92,280.78" stroke="#5a5a5a" stroke-width="1.0" fill="none"/><path d="M64.21,434.06L49.61,290.90" stroke="#444" stroke-width="1.0" fill="none"/><path d="M62.60,418.23L65.60,417.03" stroke="#444" stroke-width="0.8" fill="none"/><path d="M60.94,401.98L63.94,400.78" stroke="#444" stroke-width="0.8" fill="none"/><path d="M59.24,385.31L62.24,384.11" stroke="#444" stroke-width="0.8" fill="none"/><path d="M57.49,368.18L60.49,366.98" stroke="#444" stroke-width="0.8" fill="none"/><path d="M55.70,350.58L58.70,349.38" stroke="#444" stroke-width="0.8" fill="none"/><path d="M53.86,332.50L56.86,331.30" stroke="#444" stroke-width="0.8" fill="none"/><path d="M51.96,313.91L54.96,312.71" stroke="#444" stroke-width="0.8" fill="none"/><path d="M50.01,294.79L53.01,293.59" stroke="#444" stroke-width="0.8" fill="none"/><path d="M168.81,379.21L168.70,372.82A2.13,0.96 0 0 1 172.96,372.82L173.04,379.21A2.12,0.95 0 0 1 168.81,379.21Z" fill="url(#bg0)"/><ellipse cx="170.83" cy="372.82" rx="2.13" ry="0.96" fill="#9a9a9a"/><path d="M163.19,382.58L163.03,374.57A2.16,0.97 0 0 1 167.35,374.57L167.48,382.58A2.14,0.96 0 0 1 163.19,382.58Z" fill="url(#bg0)"/><ellipse cx="165.19" cy="374.57" rx="2.16" ry="0.97" fill="#9a9a9a"/><path d="M157.49,386.00L157.22,375.61A2.19,0.99 0 0 1 161.61,375.61L161.82,386.00A2.17,0.98 0 0 1 157.49,386.00Z" fill="url(#bg0)"/><ellipse cx="159.42" cy="375.61" rx="2.19" ry="0.99" fill="#9a9a9a"/><path d="M187.01,386.60L187.00,381.49A2.19,0.98 0 0 1 191.37,381.49L191.36,386.60A2.17,0.98 0 0 1 187.01,386.60Z" fill="url(#bg1)"/><ellipse cx="189.18" cy="381.49" rx="2.19" ry="0.98" fill="#3a4ad8"/><path d="M151.69,389.48L151.26,375.18A2.23,1.00 0 0 1 155.72,375.18L156.08,389.48A2.19,0.99 0 0 1 151.69,389.48Z" fill="url(#bg0)"/><ellipse cx="153.49" cy="375.18" rx="2.23" ry="1.00" fill="#9a9a9a"/><path d="M181.44,390.10L181.41,384.46A2.22,1.00 0 0 1 185.84,384.46L185.85,390.10A2.20,0.99 0 0 1 181.44,390.10Z" fill="url(#bg1)"/><ellipse cx="183.62" cy="384.46" rx="2.22" ry="1.00" fill="#3a4ad8"/><path d="M145.79,393.02L144.97,369.42A2.29,1.03 0 0 1 149.54,369.42L150.24,393.02A2.22,1.00 0 0 1 145.79,393.02Z" fill="url(#bg0)"/><ellipse cx="147.25" cy="369.42" rx="2.29" ry="1.03" fill="#9a9a9a"/><path d="M175.79,393.65L175.70,386.24A2.25,1.01 0 0 1 180.20,386.24L180.24,393.65A2.23,1.00 0 0 1 175.79,393.65Z" fill="url(#bg1)"/><ellipse cx="177.95" cy="386.24" rx="2.25" ry="1.01" fill="#3a4ad8"/><path d="M205.88,394.27L205.94,389.83A2.25,1.01 0 0 1 210.43,389.83L210.35,394.27A2.23,1.01 0 0 1 205.88,394.27Z" fill="url(#bg2)"/><ellipse cx="208.18" cy="389.83" rx="2.25" ry="1.01" fill="#d0005c"/><path d="M139.79,396.62L137.67,343.42A2.39,1.08 0 0 1 142.46,343.42L144.30,396.62A2.25,1.01 0 0 1 139.79,396.62Z" fill="url(#bg0)"/><ellipse cx="140.07" cy="343.42" rx="2.39" ry="1.08" fill="#9a9a9a"/><path d="M170.03,397.26L169.89,387.93A2.28,1.03 0 0 1 174.45,387.93L174.55,397.26A2.26,1.02 0 0 1 170.03,397.26Z" fill="url(#bg1)"/><ellipse cx="172.17" cy="387.93" rx="2.28" ry="1.03" fill="#3a4ad8"/><path d="M200.37,397.89L200.42,392.93A2.28,1.02 0 0 1 204.97,392.93L204.90,397.89A2.26,1.02 0 0 1 200.37,397.89Z" fill="url(#bg2)"/><ellipse cx="202.69" cy="392.93" rx="2.28" ry="1.02" fill="#d0005c"/><path d="M133.70,400.28L130.26,323.73A2.49,1.12 0 0 1 135.24,323.73L138.25,400.28A2.28,1.03 0 0 1 133.70,400.28Z" fill="url(#bg0)"/><ellipse cx="132.75" cy="323.73" rx="2.49" ry="1.12" fill="#9a9a9a"/><path d="M164.18,400.93L163.91,387.63A2.32,1.04 0 0 1 168.55,387.63L168.75,400.93A2.29,1.03 0 0 1 164.18,400.93Z" fill="url(#bg1)"/><ellipse cx="166.23" cy="387.63" rx="2.32" ry="1.04" fill="#3a4ad8"/><path d="M194.77,401.57L194.79,395.96A2.31,1.04 0 0 1 199.41,395.96L199.35,401.57A2.29,1.03 0 0 1 194.77,401.57Z" fill="url(#bg2)"/><ellipse cx="197.10" cy="395.96" rx="2.31" ry="1.04" fill="#d0005c"/><path d="M225.47,402.22L225.57,398.48A2.31,1.04 0 0 1 230.19,398.48L230.06,402.22A2.30,1.03 0 0 1 225.47,402.22Z" fill="url(#bg3)"/><ellipse cx="227.88" cy="398.48" rx="2.31" ry="1.04" fill="#c4bc4a"/><path d="M127.49,404.00L126.03,374.66A2.39,1.08 0 0 1 130.81,374.66L132.11,404.00A2.31,1.04 0 0 1 127.49,404.00Z" fill="url(#bg0)"/><ellipse cx="128.42" cy="374.66" rx="2.39" ry="1.08" fill="#9a9a9a"/><path d="M158.23,404.66L157.71,384.11A2.37,1.07 0 0 1 162.45,384.11L162.86,404.66A2.31,1.04 0 0 1 158.23,404.66Z" fill="url(#bg1)"/><ellipse cx="160.08" cy="384.11" rx="2.37" ry="1.07" fill="#3a4ad8"/><path d="M189.07,405.32L189.07,398.54A2.34,1.05 0 0 1 193.75,398.54L193.72,405.32A2.32,1.04 0 0 1 189.07,405.32Z" fill="url(#bg2)"/><ellipse cx="191.41" cy="398.54" rx="2.34" ry="1.05" fill="#d0005c"/><path d="M220.02,405.98L220.12,401.97A2.34,1.05 0 0 1 224.80,401.97L224.68,405.98A2.33,1.05 0 0 1 220.02,405.98Z" fill="url(#bg3)"/><ellipse cx="222.46" cy="401.97" rx="2.34" ry="1.05" fill="#c4bc4a"/><path d="M121.18,407.79L120.22,390.37A2.39,1.07 0 0 1 125.00,390.37L125.86,407.79A2.34,1.05 0 0 1 121.18,407.79Z" fill="url(#bg0)"/><ellipse cx="122.61" cy="390.37" rx="2.39" ry="1.07" fill="#9a9a9a"/><path d="M152.17,408.46L150.82,364.00A2.47,1.11 0 0 1 155.77,364.00L156.86,408.46A2.35,1.06 0 0 1 152.17,408.46Z" fill="url(#bg1)"/><ellipse cx="153.30" cy="364.00" rx="2.47" ry="1.11" fill="#3a4ad8"/><path d="M183.28,409.13L183.23,400.40A2.38,1.07 0 0 1 187.98,400.40L187.98,409.13A2.35,1.06 0 0 1 183.28,409.13Z" fill="url(#bg2)"/><ellipse cx="185.60" cy="400.40" rx="2.38" ry="1.07" fill="#d0005c"/><path d="M214.48,409.81L214.57,405.39A2.37,1.07 0 0 1 219.31,405.39L219.20,409.81A2.36,1.06 0 0 1 214.48,409.81Z" fill="url(#bg3)"/><ellipse cx="216.94" cy="405.39" rx="2.37" ry="1.07" fill="#c4bc4a"/><path d="M245.80,410.48L245.94,407.45A2.37,1.07 0 0 1 250.68,407.45L250.53,410.48A2.36,1.06 0 0 1 245.80,410.48Z" fill="url(#bg4)"/><ellipse cx="248.31" cy="407.45" rx="2.37" ry="1.07" fill="#8c4cdc"/><path d="M114.76,411.64L114.02,399.42A2.40,1.08 0 0 1 118.83,399.42L119.50,411.64A2.37,1.07 0 0 1 114.76,411.64Z" fill="url(#bg0)"/><ellipse cx="116.42" cy="399.42" rx="2.40" ry="1.08" fill="#9a9a9a"/><path d="M146.01,412.33L142.82,322.16A2.64,1.19 0 0 1 148.09,322.16L150.76,412.33A2.38,1.07 0 0 1 146.01,412.33Z" fill="url(#bg1)"/><ellipse cx="145.46" cy="322.16" rx="2.64" ry="1.19" fill="#3a4ad8"/><path d="M177.38,413.01L177.26,401.40A2.42,1.09 0 0 1 182.09,401.40L182.14,413.01A2.38,1.07 0 0 1 177.38,413.01Z" fill="url(#bg2)"/><ellipse cx="179.67" cy="401.40" rx="2.42" ry="1.09" fill="#d0005c"/><path d="M208.85,413.70L208.93,408.49A2.40,1.08 0 0 1 213.73,408.49L213.63,413.70A2.39,1.07 0 0 1 208.85,413.70Z" fill="url(#bg3)"/><ellipse cx="211.33" cy="408.49" rx="2.40" ry="1.08" fill="#c4bc4a"/><path d="M240.43,414.39L240.56,411.21A2.40,1.08 0 0 1 245.37,411.21L245.22,414.39A2.39,1.08 0 0 1 240.43,414.39Z" fill="url(#bg4)"/><ellipse cx="242.96" cy="411.21" rx="2.40" ry="1.08" fill="#8c4cdc"/><path d="M108.22,415.56L107.61,406.24A2.43,1.09 0 0 1 112.47,406.24L113.03,415.56A2.40,1.08 0 0 1 108.22,415.56Z" fill="url(#bg0)"/><ellipse cx="110.04" cy="406.24" rx="2.43" ry="1.09" fill="#9a9a9a"/><path d="M139.74,416.26L138.53,386.49A2.49,1.12 0 0 1 143.52,386.49L144.56,416.26A2.41,1.08 0 0 1 139.74,416.26Z" fill="url(#bg1)"/><ellipse cx="141.03" cy="386.49" rx="2.49" ry="1.12" fill="#3a4ad8"/><path d="M171.37,416.96L171.10,399.17A2.47,1.11 0 0 1 176.03,399.17L176.20,416.96A2.41,1.09 0 0 1 171.37,416.96Z" fill="url(#bg2)"/><ellipse cx="173.57" cy="399.17" rx="2.47" ry="1.11" fill="#d0005c"/><path d="M203.11,417.66L203.18,411.26A2.44,1.10 0 0 1 208.06,411.26L207.95,417.66A2.42,1.09 0 0 1 203.11,417.66Z" fill="url(#bg3)"/><ellipse cx="205.62" cy="411.26" rx="2.44" ry="1.10" fill="#c4bc4a"/><path d="M234.97,418.36L235.09,414.91A2.44,1.10 0 0 1 239.96,414.91L239.82,418.36A2.43,1.09 0 0 1 234.97,418.36Z" fill="url(#bg4)"/><ellipse cx="237.53" cy="414.91" rx="2.44" ry="1.10" fill="#8c4cdc"/><path d="M266.93,419.07L267.07,416.89A2.44,1.10 0 0 1 271.95,416.89L271.80,419.07A2.43,1.09 0 0 1 266.93,419.07Z" fill="url(#bg5)"/><ellipse cx="269.51" cy="416.89" rx="2.44" ry="1.10" fill="#10b078"/><path d="M101.57,419.55L100.99,411.47A2.46,1.11 0 0 1 105.91,411.47L106.44,419.55A2.43,1.09 0 0 1 101.57,419.55Z" fill="url(#bg0)"/><ellipse cx="103.45" cy="411.47" rx="2.46" ry="1.11" fill="#9a9a9a"/><path d="M133.36,420.26L132.55,402.52A2.49,1.12 0 0 1 137.53,402.52L138.24,420.26A2.44,1.10 0 0 1 133.36,420.26Z" fill="url(#bg1)"/><ellipse cx="135.04" cy="402.52" rx="2.49" ry="1.12" fill="#3a4ad8"/><path d="M165.26,420.97L164.52,384.39A2.56,1.15 0 0 1 169.63,384.39L170.15,420.97A2.45,1.10 0 0 1 165.26,420.97Z" fill="url(#bg2)"/><ellipse cx="167.08" cy="384.39" rx="2.56" ry="1.15" fill="#d0005c"/><path d="M197.27,421.69L197.32,413.83A2.48,1.11 0 0 1 202.27,413.83L202.18,421.69A2.45,1.10 0 0 1 197.27,421.69Z" fill="url(#bg3)"/><ellipse cx="199.79" cy="413.83" rx="2.48" ry="1.11" fill="#c4bc4a"/><path d="M229.40,422.40L229.52,418.55A2.47,1.11 0 0 1 234.47,418.55L234.32,422.40A2.46,1.11 0 0 1 229.40,422.40Z" fill="url(#bg4)"/><ellipse cx="231.99" cy="418.55" rx="2.47" ry="1.11" fill="#8c4cdc"/><path d="M261.64,423.12L261.78,420.81A2.47,1.11 0 0 1 266.72,420.81L266.58,423.12A2.47,1.11 0 0 1 261.64,423.12Z" fill="url(#bg5)"/><ellipse cx="264.25" cy="420.81" rx="2.47" ry="1.11" fill="#10b078"/><path d="M94.80,423.62L94.30,417.17A2.49,1.12 0 0 1 99.27,417.17L99.73,423.62A2.47,1.11 0 0 1 94.80,423.62Z" fill="url(#bg0)"/><ellipse cx="96.79" cy="417.17" rx="2.49" ry="1.12" fill="#9a9a9a"/><path d="M126.86,424.34L126.23,412.02A2.51,1.13 0 0 1 131.25,412.02L131.81,424.34A2.47,1.11 0 0 1 126.86,424.34Z" fill="url(#bg1)"/><ellipse cx="128.74" cy="412.02" rx="2.51" ry="1.13" fill="#3a4ad8"/><path d="M159.04,425.06L156.20,312.86A2.83,1.27 0 0 1 161.85,312.86L164.00,425.06A2.48,1.12 0 0 1 159.04,425.06Z" fill="url(#bg2)"/><ellipse cx="159.02" cy="312.86" rx="2.83" ry="1.27" fill="#d0005c"/><path d="M191.33,425.79L191.34,415.28A2.52,1.13 0 0 1 196.37,415.28L196.30,425.79A2.49,1.12 0 0 1 191.33,425.79Z" fill="url(#bg3)"/><ellipse cx="193.86" cy="415.28" rx="2.52" ry="1.13" fill="#c4bc4a"/><path d="M223.74,426.52L223.87,421.61A2.51,1.13 0 0 1 228.89,421.61L228.72,426.52A2.49,1.12 0 0 1 223.74,426.52Z" fill="url(#bg4)"/><ellipse cx="226.38" cy="421.61" rx="2.51" ry="1.13" fill="#8c4cdc"/><path d="M256.26,427.25L256.39,424.93A2.51,1.13 0 0 1 261.40,424.93L261.26,427.25A2.50,1.12 0 0 1 256.26,427.25Z" fill="url(#bg5)"/><ellipse cx="258.89" cy="424.93" rx="2.51" ry="1.13" fill="#10b078"/><path d="M87.91,427.75L87.43,422.05A2.52,1.13 0 0 1 92.47,422.05L92.91,427.75A2.50,1.12 0 0 1 87.91,427.75Z" fill="url(#bg0)"/><ellipse cx="89.95" cy="422.05" rx="2.52" ry="1.13" fill="#9a9a9a"/><path d="M120.25,428.49L119.68,418.60A2.54,1.14 0 0 1 124.76,418.60L125.26,428.49A2.51,1.13 0 0 1 120.25,428.49Z" fill="url(#bg1)"/><ellipse cx="122.22" cy="418.60" rx="2.54" ry="1.14" fill="#3a4ad8"/><path d="M152.70,429.23L151.73,397.40A2.61,1.18 0 0 1 156.95,397.40L157.73,429.23A2.51,1.13 0 0 1 152.70,429.23Z" fill="url(#bg2)"/><ellipse cx="154.34" cy="397.40" rx="2.61" ry="1.18" fill="#d0005c"/><path d="M185.28,429.97L185.21,414.50A2.57,1.16 0 0 1 190.35,414.50L190.32,429.97A2.52,1.13 0 0 1 185.28,429.97Z" fill="url(#bg3)"/><ellipse cx="187.78" cy="414.50" rx="2.57" ry="1.16" fill="#c4bc4a"/><path d="M217.97,430.71L218.09,425.38A2.54,1.14 0 0 1 223.18,425.38L223.02,430.71A2.53,1.14 0 0 1 217.97,430.71Z" fill="url(#bg4)"/><ellipse cx="220.63" cy="425.38" rx="2.54" ry="1.14" fill="#8c4cdc"/><path d="M250.78,431.46L250.90,428.99A2.54,1.14 0 0 1 255.98,428.99L255.85,431.46A2.53,1.14 0 0 1 250.78,431.46Z" fill="url(#bg5)"/><ellipse cx="253.44" cy="428.99" rx="2.54" ry="1.14" fill="#10b078"/><path d="M80.89,431.96L80.44,426.88A2.55,1.15 0 0 1 85.54,426.88L85.96,431.96A2.53,1.14 0 0 1 80.89,431.96Z" fill="url(#bg0)"/><ellipse cx="82.99" cy="426.88" rx="2.55" ry="1.15" fill="#9a9a9a"/><path d="M113.51,432.71L113.03,425.01A2.56,1.15 0 0 1 118.16,425.01L118.59,432.71A2.54,1.14 0 0 1 113.51,432.71Z" fill="url(#bg1)"/><ellipse cx="115.59" cy="425.01" rx="2.56" ry="1.15" fill="#3a4ad8"/><path d="M146.25,433.47L145.64,416.46A2.60,1.17 0 0 1 150.84,416.46L151.35,433.47A2.55,1.15 0 0 1 146.25,433.47Z" fill="url(#bg2)"/><ellipse cx="148.24" cy="416.46" rx="2.60" ry="1.17" fill="#d0005c"/><path d="M179.11,434.22L178.83,403.67A2.65,1.19 0 0 1 184.14,403.67L184.22,434.22A2.55,1.15 0 0 1 179.11,434.22Z" fill="url(#bg3)"/><ellipse cx="181.49" cy="403.67" rx="2.65" ry="1.19" fill="#c4bc4a"/><path d="M212.09,434.98L212.21,428.30A2.58,1.16 0 0 1 217.38,428.30L217.22,434.98A2.56,1.15 0 0 1 212.09,434.98Z" fill="url(#bg4)"/><ellipse cx="214.80" cy="428.30" rx="2.58" ry="1.16" fill="#8c4cdc"/><path d="M245.20,435.75L245.32,433.00A2.58,1.16 0 0 1 250.47,433.00L250.33,435.75A2.57,1.16 0 0 1 245.20,435.75Z" fill="url(#bg5)"/><ellipse cx="247.90" cy="433.00" rx="2.58" ry="1.16" fill="#10b078"/><path d="M73.74,436.25L73.29,431.54A2.58,1.16 0 0 1 78.46,431.54L78.88,436.25A2.57,1.16 0 0 1 73.74,436.25Z" fill="url(#bg0)"/><ellipse cx="75.87" cy="431.54" rx="2.58" ry="1.16" fill="#9a9a9a"/><path d="M106.65,437.02L106.17,430.06A2.60,1.17 0 0 1 111.37,430.06L111.80,437.02A2.58,1.16 0 0 1 106.65,437.02Z" fill="url(#bg1)"/><ellipse cx="108.77" cy="430.06" rx="2.60" ry="1.17" fill="#3a4ad8"/><path d="M139.68,437.79L139.18,425.77A2.62,1.18 0 0 1 144.43,425.77L144.85,437.79A2.58,1.16 0 0 1 139.68,437.79Z" fill="url(#bg2)"/><ellipse cx="141.80" cy="425.77" rx="2.62" ry="1.18" fill="#d0005c"/><path d="M172.83,438.56L170.71,290.25A3.08,1.38 0 0 1 176.86,290.25L178.01,438.56A2.59,1.17 0 0 1 172.83,438.56Z" fill="url(#bg3)"/><ellipse cx="173.79" cy="290.25" rx="3.08" ry="1.38" fill="#c4bc4a"/><path d="M206.11,439.33L206.23,430.09A2.63,1.18 0 0 1 211.48,430.09L211.30,439.33A2.60,1.17 0 0 1 206.11,439.33Z" fill="url(#bg4)"/><ellipse cx="208.86" cy="430.09" rx="2.63" ry="1.18" fill="#8c4cdc"/><path d="M239.51,440.11L239.65,436.56A2.62,1.18 0 0 1 244.89,436.56L244.72,440.11A2.60,1.17 0 0 1 239.51,440.11Z" fill="url(#bg5)"/><ellipse cx="242.27" cy="436.56" rx="2.62" ry="1.18" fill="#10b078"/><path d="M99.66,441.40L99.20,435.20A2.63,1.18 0 0 1 104.46,435.20L104.88,441.40A2.61,1.18 0 0 1 99.66,441.40Z" fill="url(#bg1)"/><ellipse cx="101.83" cy="435.20" rx="2.63" ry="1.18" fill="#3a4ad8"/><path d="M132.99,442.19L132.57,433.31A2.65,1.19 0 0 1 137.86,433.31L138.23,442.19A2.62,1.18 0 0 1 132.99,442.19Z" fill="url(#bg2)"/><ellipse cx="135.22" cy="433.31" rx="2.65" ry="1.19" fill="#d0005c"/><path d="M166.44,442.97L165.76,408.17A2.74,1.23 0 0 1 171.24,408.17L171.69,442.97A2.63,1.18 0 0 1 166.44,442.97Z" fill="url(#bg3)"/><ellipse cx="168.50" cy="408.17" rx="2.74" ry="1.23" fill="#c4bc4a"/><path d="M200.01,443.76L200.12,430.44A2.68,1.21 0 0 1 205.48,430.44L205.28,443.76A2.63,1.19 0 0 1 200.01,443.76Z" fill="url(#bg4)"/><ellipse cx="202.80" cy="430.44" rx="2.68" ry="1.21" fill="#8c4cdc"/><path d="M233.71,444.56L233.90,439.39A2.66,1.20 0 0 1 239.22,439.39L239.00,444.56A2.64,1.19 0 0 1 233.71,444.56Z" fill="url(#bg5)"/><ellipse cx="236.56" cy="439.39" rx="2.66" ry="1.20" fill="#10b078"/><path d="M92.54,445.87L92.08,440.16A2.67,1.20 0 0 1 97.42,440.16L97.84,445.87A2.65,1.19 0 0 1 92.54,445.87Z" fill="url(#bg1)"/><ellipse cx="94.75" cy="440.16" rx="2.67" ry="1.20" fill="#3a4ad8"/><path d="M126.17,446.67L125.77,439.22A2.68,1.21 0 0 1 131.13,439.22L131.48,446.67A2.66,1.20 0 0 1 126.17,446.67Z" fill="url(#bg2)"/><ellipse cx="128.45" cy="439.22" rx="2.68" ry="1.21" fill="#d0005c"/><path d="M159.92,447.47L159.48,429.74A2.72,1.23 0 0 1 164.92,429.74L165.25,447.47A2.66,1.20 0 0 1 159.92,447.47Z" fill="url(#bg3)"/><ellipse cx="162.20" cy="429.74" rx="2.72" ry="1.23" fill="#c4bc4a"/><path d="M193.80,448.28L193.87,423.24A2.76,1.24 0 0 1 199.38,423.24L199.14,448.28A2.67,1.20 0 0 1 193.80,448.28Z" fill="url(#bg4)"/><ellipse cx="196.63" cy="423.24" rx="2.76" ry="1.24" fill="#8c4cdc"/><path d="M227.81,449.09L227.99,443.22A2.70,1.21 0 0 1 233.39,443.22L233.17,449.09A2.68,1.21 0 0 1 227.81,449.09Z" fill="url(#bg5)"/><ellipse cx="230.69" cy="443.22" rx="2.70" ry="1.21" fill="#10b078"/><path d="M119.22,451.24L118.84,444.82A2.72,1.22 0 0 1 124.27,444.82L124.61,451.24A2.69,1.21 0 0 1 119.22,451.24Z" fill="url(#bg2)"/><ellipse cx="121.55" cy="444.82" rx="2.72" ry="1.22" fill="#d0005c"/><path d="M153.28,452.05L152.92,440.22A2.74,1.23 0 0 1 158.40,440.22L158.68,452.05A2.70,1.22 0 0 1 153.28,452.05Z" fill="url(#bg3)"/><ellipse cx="155.66" cy="440.22" rx="2.74" ry="1.23" fill="#c4bc4a"/><path d="M187.47,452.88L187.26,363.67A3.02,1.36 0 0 1 193.29,363.67L192.89,452.88A2.71,1.22 0 0 1 187.47,452.88Z" fill="url(#bg4)"/><ellipse cx="190.28" cy="363.67" rx="3.02" ry="1.36" fill="#8c4cdc"/><path d="M221.79,453.70L221.99,446.05A2.74,1.23 0 0 1 227.48,446.05L227.23,453.70A2.72,1.22 0 0 1 221.79,453.70Z" fill="url(#bg5)"/><ellipse cx="224.74" cy="446.05" rx="2.74" ry="1.23" fill="#10b078"/><path d="M112.13,455.89L111.77,450.25A2.75,1.24 0 0 1 117.27,450.25L117.60,455.89A2.73,1.23 0 0 1 112.13,455.89Z" fill="url(#bg2)"/><ellipse cx="114.52" cy="450.25" rx="2.75" ry="1.24" fill="#d0005c"/><path d="M146.51,456.73L146.18,447.69A2.77,1.25 0 0 1 151.72,447.69L151.99,456.73A2.74,1.23 0 0 1 146.51,456.73Z" fill="url(#bg3)"/><ellipse cx="148.95" cy="447.69" rx="2.77" ry="1.25" fill="#c4bc4a"/><path d="M181.02,457.57L180.72,418.95A2.88,1.30 0 0 1 186.49,418.95L186.52,457.57A2.75,1.24 0 0 1 181.02,457.57Z" fill="url(#bg4)"/><ellipse cx="183.60" cy="418.95" rx="2.88" ry="1.30" fill="#8c4cdc"/><path d="M215.66,458.41L215.89,447.43A2.80,1.26 0 0 1 221.48,447.43L221.17,458.41A2.76,1.24 0 0 1 215.66,458.41Z" fill="url(#bg5)"/><ellipse cx="218.69" cy="447.43" rx="2.80" ry="1.26" fill="#10b078"/><path d="M139.61,461.49L139.29,453.90A2.81,1.26 0 0 1 144.90,453.90L145.17,461.49A2.78,1.25 0 0 1 139.61,461.49Z" fill="url(#bg3)"/><ellipse cx="142.09" cy="453.90" rx="2.81" ry="1.26" fill="#c4bc4a"/><path d="M174.44,462.35L174.20,444.28A2.85,1.28 0 0 1 179.90,444.28L180.02,462.35A2.79,1.26 0 0 1 174.44,462.35Z" fill="url(#bg4)"/><ellipse cx="177.05" cy="444.28" rx="2.85" ry="1.28" fill="#8c4cdc"/><path d="M209.41,463.21L209.72,443.30A2.87,1.29 0 0 1 215.46,443.30L215.00,463.21A2.80,1.26 0 0 1 209.41,463.21Z" fill="url(#bg5)"/><ellipse cx="212.59" cy="443.30" rx="2.87" ry="1.29" fill="#10b078"/><path d="M132.57,466.35L132.25,459.81A2.85,1.28 0 0 1 137.94,459.81L138.22,466.35A2.82,1.27 0 0 1 132.57,466.35Z" fill="url(#bg3)"/><ellipse cx="135.10" cy="459.81" rx="2.85" ry="1.28" fill="#c4bc4a"/><path d="M167.73,467.22L167.51,455.44A2.87,1.29 0 0 1 173.25,455.44L173.39,467.22A2.83,1.27 0 0 1 167.73,467.22Z" fill="url(#bg4)"/><ellipse cx="170.38" cy="455.44" rx="2.87" ry="1.29" fill="#8c4cdc"/><path d="M203.03,468.10L203.72,403.69A3.07,1.38 0 0 1 209.86,403.69L208.71,468.10A2.84,1.28 0 0 1 203.03,468.10Z" fill="url(#bg5)"/><ellipse cx="206.79" cy="403.69" rx="3.07" ry="1.38" fill="#10b078"/><path d="M160.89,472.19L160.67,463.40A2.91,1.31 0 0 1 166.48,463.40L166.63,472.19A2.87,1.29 0 0 1 160.89,472.19Z" fill="url(#bg4)"/><ellipse cx="163.57" cy="463.40" rx="2.91" ry="1.31" fill="#8c4cdc"/><path d="M196.52,473.09L196.76,426.98A3.05,1.37 0 0 1 202.87,426.98L202.29,473.09A2.88,1.30 0 0 1 196.52,473.09Z" fill="url(#bg5)"/><ellipse cx="199.82" cy="426.98" rx="3.05" ry="1.37" fill="#10b078"/><path d="M153.91,477.26L153.70,470.36A2.94,1.32 0 0 1 159.58,470.36L159.74,477.26A2.92,1.31 0 0 1 153.91,477.26Z" fill="url(#bg4)"/><ellipse cx="156.64" cy="470.36" rx="2.94" ry="1.32" fill="#8c4cdc"/><path d="M189.89,478.18L189.88,459.34A3.00,1.35 0 0 1 195.87,459.34L195.74,478.18A2.93,1.32 0 0 1 189.89,478.18Z" fill="url(#bg5)"/><ellipse cx="192.88" cy="459.34" rx="3.00" ry="1.35" fill="#10b078"/><path d="M183.12,483.37L183.05,471.51A3.02,1.36 0 0 1 189.08,471.51L189.06,483.37A2.97,1.34 0 0 1 183.12,483.37Z" fill="url(#bg5)"/><ellipse cx="186.06" cy="471.51" rx="3.02" ry="1.36" fill="#10b078"/><path d="M176.21,488.67L176.11,480.28A3.05,1.37 0 0 1 182.20,480.28L182.24,488.67A3.02,1.36 0 0 1 176.21,488.67Z" fill="url(#bg5)"/><ellipse cx="179.16" cy="480.28" rx="3.05" ry="1.37" fill="#10b078"/><path d="M64.21,434.06L186.76,497.02" stroke="#3c3c3c" stroke-width="1.05" fill="none"/><path d="M186.76,497.02L282.30,421.22" stroke="#484848" stroke-width="1.0" fill="none"/><path d="M72.70,438.43L70.50,440.63" stroke="#444" stroke-width="0.8" fill="none"/><path d="M91.60,448.13L89.40,450.33" stroke="#444" stroke-width="0.8" fill="none"/><path d="M111.29,458.25L109.09,460.45" stroke="#444" stroke-width="0.8" fill="none"/><path d="M131.84,468.81L129.64,471.01" stroke="#444" stroke-width="0.8" fill="none"/><path d="M153.30,479.84L151.10,482.04" stroke="#444" stroke-width="0.8" fill="none"/><path d="M175.74,491.36L173.54,493.56" stroke="#444" stroke-width="0.8" fill="none"/><path d="M190.22,494.27L191.78,496.35" stroke="#444" stroke-width="0.7" fill="none"/><path d="M197.05,488.86L198.01,490.14" stroke="#444" stroke-width="0.7" fill="none"/><path d="M203.73,483.55L204.69,484.83" stroke="#444" stroke-width="0.7" fill="none"/><path d="M210.28,478.36L211.84,480.44" stroke="#444" stroke-width="0.7" fill="none"/><path d="M216.71,473.26L217.67,474.54" stroke="#444" stroke-width="0.7" fill="none"/><path d="M223.00,468.27L223.96,469.55" stroke="#444" stroke-width="0.7" fill="none"/><path d="M229.17,463.37L230.73,465.45" stroke="#444" stroke-width="0.7" fill="none"/><path d="M235.22,458.57L236.18,459.85" stroke="#444" stroke-width="0.7" fill="none"/><path d="M241.16,453.86L242.12,455.14" stroke="#444" stroke-width="0.7" fill="none"/><path d="M246.98,449.24L248.54,451.32" stroke="#444" stroke-width="0.7" fill="none"/><path d="M252.70,444.71L253.66,445.99" stroke="#444" stroke-width="0.7" fill="none"/><path d="M258.30,440.26L259.26,441.54" stroke="#444" stroke-width="0.7" fill="none"/><path d="M263.81,435.89L265.37,437.97" stroke="#444" stroke-width="0.7" fill="none"/><path d="M269.21,431.61L270.17,432.89" stroke="#444" stroke-width="0.7" fill="none"/><path d="M274.52,427.40L275.48,428.68" stroke="#444" stroke-width="0.7" fill="none"/><path d="M279.73,423.26L281.29,425.34" stroke="#444" stroke-width="0.7" fill="none"/><path d="M374.56,425.59L479.79,369.60" stroke="#cfcfcf" stroke-width="0.6" fill="none" stroke-dasharray="2,1,0.6,1"/><path d="M372.89,405.40L479.66,351.49" stroke="#cfcfcf" stroke-width="0.6" fill="none" stroke-dasharray="2,1,0.6,1"/><path d="M371.17,384.63L479.52,332.93" stroke="#cfcfcf" stroke-width="0.6" fill="none" stroke-dasharray="2,1,0.6,1"/><path d="M369.40,363.25L479.38,313.90" stroke="#cfcfcf" stroke-width="0.6" fill="none" stroke-dasharray="2,1,0.6,1"/><path d="M367.58,341.22L479.23,294.37" stroke="#cfcfcf" stroke-width="0.6" fill="none" stroke-dasharray="2,1,0.6,1"/><path d="M365.70,318.52L479.08,274.34" stroke="#cfcfcf" stroke-width="0.6" fill="none" stroke-dasharray="2,1,0.6,1"/><path d="M363.76,295.12L478.93,253.78" stroke="#cfcfcf" stroke-width="0.6" fill="none" stroke-dasharray="2,1,0.6,1"/><path d="M373.73,415.57L479.73,360.60" stroke="#a0a0a0" stroke-width="0.8" fill="none" stroke-dasharray="1.6,1"/><path d="M372.04,395.09L479.59,342.27" stroke="#a0a0a0" stroke-width="0.8" fill="none" stroke-dasharray="1.6,1"/><path d="M370.29,374.02L479.45,323.47" stroke="#a0a0a0" stroke-width="0.8" fill="none" stroke-dasharray="1.6,1"/><path d="M368.50,352.32L479.30,304.20" stroke="#a0a0a0" stroke-width="0.8" fill="none" stroke-dasharray="1.6,1"/><path d="M366.65,329.96L479.16,284.42" stroke="#a0a0a0" stroke-width="0.8" fill="none" stroke-dasharray="1.6,1"/><path d="M364.74,306.91L479.00,264.13" stroke="#a0a0a0" stroke-width="0.8" fill="none" stroke-dasharray="1.6,1"/><path d="M382.67,431.48L370.99,280.33" stroke="#c0c0c0" stroke-width="0.6" fill="none" stroke-dasharray="1,1"/><path d="M402.99,420.41L393.78,272.50" stroke="#c0c0c0" stroke-width="0.6" fill="none" stroke-dasharray="1,1"/><path d="M422.26,409.90L415.27,265.12" stroke="#c0c0c0" stroke-width="0.6" fill="none" stroke-dasharray="1,1"/><path d="M440.56,399.92L435.58,258.15" stroke="#c0c0c0" stroke-width="0.6" fill="none" stroke-dasharray="1,1"/><path d="M457.96,390.43L454.80,251.55" stroke="#c0c0c0" stroke-width="0.6" fill="none" stroke-dasharray="1,1"/><path d="M474.53,381.39L473.01,245.30" stroke="#c0c0c0" stroke-width="0.6" fill="none" stroke-dasharray="1,1"/><path d="M479.79,369.60L603.34,413.49" stroke="#cfcfcf" stroke-width="0.6" fill="none" stroke-dasharray="2,1,0.6,1"/><path d="M479.66,351.49L604.91,393.78" stroke="#cfcfcf" stroke-width="0.6" fill="none" stroke-dasharray="2,1,0.6,1"/><path d="M479.52,332.93L606.52,373.51" stroke="#cfcfcf" stroke-width="0.6" fill="none" stroke-dasharray="2,1,0.6,1"/><path d="M479.38,313.90L608.18,352.67" stroke="#cfcfcf" stroke-width="0.6" fill="none" stroke-dasharray="2,1,0.6,1"/><path d="M479.23,294.37L609.88,331.22" stroke="#cfcfcf" stroke-width="0.6" fill="none" stroke-dasharray="2,1,0.6,1"/><path d="M479.08,274.34L611.64,309.13" stroke="#cfcfcf" stroke-width="0.6" fill="none" stroke-dasharray="2,1,0.6,1"/><path d="M478.93,253.78L613.45,286.39" stroke="#cfcfcf" stroke-width="0.6" fill="none" stroke-dasharray="2,1,0.6,1"/><path d="M479.73,360.60L604.12,403.70" stroke="#a0a0a0" stroke-width="0.8" fill="none" stroke-dasharray="1.6,1"/><path d="M479.59,342.27L605.71,383.72" stroke="#a0a0a0" stroke-width="0.8" fill="none" stroke-dasharray="1.6,1"/><path d="M479.45,323.47L607.34,363.16" stroke="#a0a0a0" stroke-width="0.8" fill="none" stroke-dasharray="1.6,1"/><path d="M479.30,304.20L609.03,342.02" stroke="#a0a0a0" stroke-width="0.8" fill="none" stroke-dasharray="1.6,1"/><path d="M479.16,284.42L610.76,320.26" stroke="#a0a0a0" stroke-width="0.8" fill="none" stroke-dasharray="1.6,1"/><path d="M479.00,264.13L612.54,297.85" stroke="#a0a0a0" stroke-width="0.8" fill="none" stroke-dasharray="1.6,1"/><path d="M488.48,381.62L488.27,245.48" stroke="#c0c0c0" stroke-width="0.6" fill="none" stroke-dasharray="1,1"/><path d="M507.59,388.58L509.21,250.34" stroke="#c0c0c0" stroke-width="0.6" fill="none" stroke-dasharray="1,1"/><path d="M527.43,395.79L531.02,255.41" stroke="#c0c0c0" stroke-width="0.6" fill="none" stroke-dasharray="1,1"/><path d="M548.02,403.29L553.75,260.69" stroke="#c0c0c0" stroke-width="0.6" fill="none" stroke-dasharray="1,1"/><path d="M569.43,411.08L577.46,266.19" stroke="#c0c0c0" stroke-width="0.6" fill="none" stroke-dasharray="1,1"/><path d="M591.69,419.18L602.22,271.94" stroke="#c0c0c0" stroke-width="0.6" fill="none" stroke-dasharray="1,1"/><path d="M384.33,439.65L488.48,381.62" stroke="#d8d8d8" stroke-width="0.6" fill="none" stroke-dasharray="1.5,1"/><path d="M404.28,448.97L507.59,388.58" stroke="#d8d8d8" stroke-width="0.6" fill="none" stroke-dasharray="1.5,1"/><path d="M425.10,458.69L527.43,395.79" stroke="#d8d8d8" stroke-width="0.6" fill="none" stroke-dasharray="1.5,1"/><path d="M446.86,468.86L548.02,403.29" stroke="#d8d8d8" stroke-width="0.6" fill="none" stroke-dasharray="1.5,1"/><path d="M469.62,479.49L569.43,411.08" stroke="#d8d8d8" stroke-width="0.6" fill="none" stroke-dasharray="1.5,1"/><path d="M493.44,490.62L591.69,419.18" stroke="#d8d8d8" stroke-width="0.6" fill="none" stroke-dasharray="1.5,1"/><path d="M382.67,431.48L512.08,490.91" stroke="#d8d8d8" stroke-width="0.6" fill="none" stroke-dasharray="1.5,1"/><path d="M402.99,420.41L531.26,476.55" stroke="#d8d8d8" stroke-width="0.6" fill="none" stroke-dasharray="1.5,1"/><path d="M422.26,409.90L549.32,463.02" stroke="#d8d8d8" stroke-width="0.6" fill="none" stroke-dasharray="1.5,1"/><path d="M440.56,399.92L566.36,450.26" stroke="#d8d8d8" stroke-width="0.6" fill="none" stroke-dasharray="1.5,1"/><path d="M457.96,390.43L582.46,438.21" stroke="#d8d8d8" stroke-width="0.6" fill="none" stroke-dasharray="1.5,1"/><path d="M474.53,381.39L597.69,426.80" stroke="#d8d8d8" stroke-width="0.6" fill="none" stroke-dasharray="1.5,1"/><path d="M479.86,378.48L478.85,243.30" stroke="#8a8a8a" stroke-width="1.0" fill="none"/><path d="M375.38,435.46L479.86,378.48" stroke="#3a3a3a" stroke-width="0.9" fill="none"/><path d="M479.86,378.48L602.58,423.14" stroke="#3a3a3a" stroke-width="0.9" fill="none" stroke-dasharray="1.6,0.8"/><path d="M362.77,283.15L478.85,243.30" stroke="#333" stroke-width="1.1" fill="none" stroke-dasharray="1.2,0.6"/><path d="M478.85,243.30L614.37,274.76" stroke="#333" stroke-width="1.1" fill="none" stroke-dasharray="1.6,0.8"/><path d="M602.58,423.14L614.37,274.76" stroke="#5a5a5a" stroke-width="1.0" fill="none"/><path d="M375.38,435.46L362.77,283.15" stroke="#444" stroke-width="1.0" fill="none"/><path d="M373.73,415.57L376.73,414.37" stroke="#444" stroke-width="0.8" fill="none"/><path d="M372.04,395.09L375.04,393.89" stroke="#444" stroke-width="0.8" fill="none"/><path d="M370.29,374.02L373.29,372.82" stroke="#444" stroke-width="0.8" fill="none"/><path d="M368.50,352.32L371.50,351.12" stroke="#444" stroke-width="0.8" fill="none"/><path d="M366.65,329.96L369.65,328.76" stroke="#444" stroke-width="0.8" fill="none"/><path d="M364.74,306.91L367.74,305.71" stroke="#444" stroke-width="0.8" fill="none"/><path d="M481.21,384.58L480.59,301.22A2.15,0.97 0 0 1 484.88,301.22L485.14,384.58A1.96,0.88 0 0 1 481.21,384.58Z" fill="url(#bg0)"/><ellipse cx="482.74" cy="301.22" rx="2.15" ry="0.97" fill="#9a9a9a"/><path d="M475.77,387.59L474.89,309.31A2.16,0.97 0 0 1 479.22,309.31L479.75,387.59A1.99,0.89 0 0 1 475.77,387.59Z" fill="url(#bg0)"/><ellipse cx="477.06" cy="309.31" rx="2.16" ry="0.97" fill="#9a9a9a"/><path d="M470.25,390.66L469.14,317.49A2.18,0.98 0 0 1 473.50,317.49L474.28,390.66A2.01,0.91 0 0 1 470.25,390.66Z" fill="url(#bg0)"/><ellipse cx="471.32" cy="317.49" rx="2.18" ry="0.98" fill="#9a9a9a"/><path d="M500.32,391.64L500.89,293.66A2.25,1.01 0 0 1 505.38,293.66L504.37,391.64A2.02,0.91 0 0 1 500.32,391.64Z" fill="url(#bg1)"/><ellipse cx="503.13" cy="293.66" rx="2.25" ry="1.01" fill="#3a4ad8"/><path d="M464.63,393.77L463.33,325.75A2.20,0.99 0 0 1 467.73,325.75L468.71,393.77A2.04,0.92 0 0 1 464.63,393.77Z" fill="url(#bg0)"/><ellipse cx="465.53" cy="325.75" rx="2.20" ry="0.99" fill="#9a9a9a"/><path d="M494.94,394.77L495.13,302.26A2.26,1.02 0 0 1 499.66,302.26L499.04,394.77A2.05,0.92 0 0 1 494.94,394.77Z" fill="url(#bg1)"/><ellipse cx="497.39" cy="302.26" rx="2.26" ry="1.02" fill="#3a4ad8"/><path d="M458.92,396.94L457.47,334.09A2.22,1.00 0 0 1 461.90,334.09L463.06,396.94A2.07,0.93 0 0 1 458.92,396.94Z" fill="url(#bg0)"/><ellipse cx="459.68" cy="334.09" rx="2.22" ry="1.00" fill="#9a9a9a"/><path d="M489.47,397.96L489.31,310.93A2.28,1.03 0 0 1 493.88,310.93L493.62,397.96A2.08,0.93 0 0 1 489.47,397.96Z" fill="url(#bg1)"/><ellipse cx="491.59" cy="310.93" rx="2.28" ry="1.03" fill="#3a4ad8"/><path d="M520.16,398.98L522.36,287.00A2.35,1.06 0 0 1 527.06,287.00L524.33,398.98A2.08,0.94 0 0 1 520.16,398.98Z" fill="url(#bg2)"/><ellipse cx="524.71" cy="287.00" rx="2.35" ry="1.06" fill="#d0005c"/><path d="M453.11,400.16L451.54,342.51A2.23,1.00 0 0 1 456.01,342.51L457.31,400.16A2.10,0.94 0 0 1 453.11,400.16Z" fill="url(#bg0)"/><ellipse cx="453.78" cy="342.51" rx="2.23" ry="1.00" fill="#9a9a9a"/><path d="M483.91,401.19L483.44,319.69A2.30,1.03 0 0 1 488.04,319.69L488.11,401.19A2.10,0.95 0 0 1 483.91,401.19Z" fill="url(#bg1)"/><ellipse cx="485.74" cy="319.69" rx="2.30" ry="1.03" fill="#3a4ad8"/><path d="M514.84,402.23L516.53,296.08A2.37,1.07 0 0 1 521.27,296.08L519.07,402.23A2.11,0.95 0 0 1 514.84,402.23Z" fill="url(#bg2)"/><ellipse cx="518.90" cy="296.08" rx="2.37" ry="1.07" fill="#d0005c"/><path d="M447.21,403.43L445.56,351.01A2.25,1.01 0 0 1 450.06,351.01L451.46,403.43A2.12,0.96 0 0 1 447.21,403.43Z" fill="url(#bg0)"/><ellipse cx="447.81" cy="351.01" rx="2.25" ry="1.01" fill="#9a9a9a"/><path d="M478.25,404.48L477.51,328.53A2.32,1.04 0 0 1 482.15,328.53L482.51,404.48A2.13,0.96 0 0 1 478.25,404.48Z" fill="url(#bg1)"/><ellipse cx="479.83" cy="328.53" rx="2.32" ry="1.04" fill="#3a4ad8"/><path d="M509.43,405.54L510.65,305.25A2.39,1.07 0 0 1 515.43,305.25L513.71,405.54A2.14,0.96 0 0 1 509.43,405.54Z" fill="url(#bg2)"/><ellipse cx="513.04" cy="305.25" rx="2.39" ry="1.07" fill="#d0005c"/><path d="M540.77,406.60L545.00,282.79A2.46,1.11 0 0 1 549.91,282.79L545.06,406.60A2.15,0.97 0 0 1 540.77,406.60Z" fill="url(#bg3)"/><ellipse cx="547.45" cy="282.79" rx="2.46" ry="1.11" fill="#c4bc4a"/><path d="M441.20,406.76L439.52,359.60A2.27,1.02 0 0 1 444.06,359.60L445.51,406.76A2.15,0.97 0 0 1 441.20,406.76Z" fill="url(#bg0)"/><ellipse cx="441.79" cy="359.60" rx="2.27" ry="1.02" fill="#9a9a9a"/><path d="M472.49,407.83L471.52,337.46A2.34,1.05 0 0 1 476.20,337.46L476.82,407.83A2.16,0.97 0 0 1 472.49,407.83Z" fill="url(#bg1)"/><ellipse cx="473.86" cy="337.46" rx="2.34" ry="1.05" fill="#3a4ad8"/><path d="M503.93,408.90L504.72,314.51A2.41,1.08 0 0 1 509.53,314.51L508.27,408.90A2.17,0.98 0 0 1 503.93,408.90Z" fill="url(#bg2)"/><ellipse cx="507.12" cy="314.51" rx="2.41" ry="1.08" fill="#d0005c"/><path d="M535.52,409.98L539.12,292.29A2.47,1.11 0 0 1 544.07,292.29L539.88,409.98A2.18,0.98 0 0 1 535.52,409.98Z" fill="url(#bg3)"/><ellipse cx="541.59" cy="292.29" rx="2.47" ry="1.11" fill="#c4bc4a"/><path d="M435.10,410.15L433.42,368.28A2.29,1.03 0 0 1 437.99,368.28L439.46,410.15A2.18,0.98 0 0 1 435.10,410.15Z" fill="url(#bg0)"/><ellipse cx="435.70" cy="368.28" rx="2.29" ry="1.03" fill="#9a9a9a"/><path d="M466.64,411.23L465.48,346.48A2.35,1.06 0 0 1 470.19,346.48L471.02,411.23A2.19,0.99 0 0 1 466.64,411.23Z" fill="url(#bg1)"/><ellipse cx="467.83" cy="346.48" rx="2.35" ry="1.06" fill="#3a4ad8"/><path d="M498.34,412.33L498.72,323.86A2.42,1.09 0 0 1 503.57,323.86L502.74,412.33A2.20,0.99 0 0 1 498.34,412.33Z" fill="url(#bg2)"/><ellipse cx="501.15" cy="323.86" rx="2.42" ry="1.09" fill="#d0005c"/><path d="M530.18,413.42L533.18,301.89A2.49,1.12 0 0 1 538.17,301.89L534.60,413.42A2.21,0.99 0 0 1 530.18,413.42Z" fill="url(#bg3)"/><ellipse cx="535.67" cy="301.89" rx="2.49" ry="1.12" fill="#c4bc4a"/><path d="M428.88,413.59L427.25,377.04A2.31,1.04 0 0 1 431.86,377.04L433.31,413.59A2.21,1.00 0 0 1 428.88,413.59Z" fill="url(#bg0)"/><ellipse cx="429.56" cy="377.04" rx="2.31" ry="1.04" fill="#9a9a9a"/><path d="M562.18,414.52L568.78,281.25A2.56,1.15 0 0 1 573.90,281.25L566.62,414.52A2.22,1.00 0 0 1 562.18,414.52Z" fill="url(#bg4)"/><ellipse cx="571.34" cy="281.25" rx="2.56" ry="1.15" fill="#8c4cdc"/><path d="M460.68,414.70L459.37,355.59A2.37,1.07 0 0 1 464.12,355.59L465.13,414.70A2.22,1.00 0 0 1 460.68,414.70Z" fill="url(#bg1)"/><ellipse cx="461.74" cy="355.59" rx="2.37" ry="1.07" fill="#3a4ad8"/><path d="M492.64,415.81L492.67,333.30A2.44,1.10 0 0 1 497.56,333.30L497.10,415.81A2.23,1.00 0 0 1 492.64,415.81Z" fill="url(#bg2)"/><ellipse cx="495.11" cy="333.30" rx="2.44" ry="1.10" fill="#d0005c"/><path d="M524.75,416.92L527.18,311.57A2.51,1.13 0 0 1 532.21,311.57L529.23,416.92A2.24,1.01 0 0 1 524.75,416.92Z" fill="url(#bg3)"/><ellipse cx="529.70" cy="311.57" rx="2.51" ry="1.13" fill="#c4bc4a"/><path d="M422.56,417.10L421.02,385.89A2.32,1.05 0 0 1 425.67,385.89L427.05,417.10A2.24,1.01 0 0 1 422.56,417.10Z" fill="url(#bg0)"/><ellipse cx="423.35" cy="385.89" rx="2.32" ry="1.05" fill="#9a9a9a"/><path d="M557.02,418.04L562.85,291.07A2.58,1.16 0 0 1 568.01,291.07L561.52,418.04A2.25,1.01 0 0 1 557.02,418.04Z" fill="url(#bg4)"/><ellipse cx="565.43" cy="291.07" rx="2.58" ry="1.16" fill="#8c4cdc"/><path d="M454.62,418.22L453.20,364.79A2.39,1.08 0 0 1 457.99,364.79L459.13,418.22A2.25,1.01 0 0 1 454.62,418.22Z" fill="url(#bg1)"/><ellipse cx="455.60" cy="364.79" rx="2.39" ry="1.08" fill="#3a4ad8"/><path d="M486.85,419.35L486.56,342.83A2.46,1.11 0 0 1 491.48,342.83L491.37,419.35A2.26,1.02 0 0 1 486.85,419.35Z" fill="url(#bg2)"/><ellipse cx="489.02" cy="342.83" rx="2.46" ry="1.11" fill="#d0005c"/><path d="M519.23,420.48L521.13,321.36A2.53,1.14 0 0 1 526.19,321.36L523.77,420.48A2.27,1.02 0 0 1 519.23,420.48Z" fill="url(#bg3)"/><ellipse cx="523.66" cy="321.36" rx="2.53" ry="1.14" fill="#c4bc4a"/><path d="M416.12,420.67L414.73,394.84A2.34,1.05 0 0 1 419.42,394.84L420.68,420.67A2.28,1.02 0 0 1 416.12,420.67Z" fill="url(#bg0)"/><ellipse cx="417.07" cy="394.84" rx="2.34" ry="1.05" fill="#9a9a9a"/><path d="M551.77,421.62L556.87,300.99A2.60,1.17 0 0 1 562.07,300.99L556.33,421.62A2.28,1.03 0 0 1 551.77,421.62Z" fill="url(#bg4)"/><ellipse cx="559.47" cy="300.99" rx="2.60" ry="1.17" fill="#8c4cdc"/><path d="M448.46,421.81L446.98,374.08A2.41,1.08 0 0 1 451.80,374.08L453.03,421.81A2.29,1.03 0 0 1 448.46,421.81Z" fill="url(#bg1)"/><ellipse cx="449.39" cy="374.08" rx="2.41" ry="1.08" fill="#3a4ad8"/><path d="M584.47,422.76L593.60,283.50A2.66,1.20 0 0 1 598.92,283.50L589.04,422.76A2.29,1.03 0 0 1 584.47,422.76Z" fill="url(#bg5)"/><ellipse cx="596.26" cy="283.50" rx="2.66" ry="1.20" fill="#10b078"/><path d="M480.95,422.95L480.39,352.46A2.48,1.12 0 0 1 485.35,352.46L485.54,422.95A2.29,1.03 0 0 1 480.95,422.95Z" fill="url(#bg2)"/><ellipse cx="482.87" cy="352.46" rx="2.48" ry="1.12" fill="#d0005c"/><path d="M513.60,424.11L515.02,331.23A2.55,1.15 0 0 1 520.12,331.23L518.21,424.11A2.30,1.04 0 0 1 513.60,424.11Z" fill="url(#bg3)"/><ellipse cx="517.57" cy="331.23" rx="2.55" ry="1.15" fill="#c4bc4a"/><path d="M409.57,424.30L408.37,403.87A2.36,1.06 0 0 1 413.10,403.87L414.19,424.30A2.31,1.04 0 0 1 409.57,424.30Z" fill="url(#bg0)"/><ellipse cx="410.74" cy="403.87" rx="2.36" ry="1.06" fill="#9a9a9a"/><path d="M546.42,425.26L550.83,311.00A2.62,1.18 0 0 1 556.07,311.00L551.04,425.26A2.31,1.04 0 0 1 546.42,425.26Z" fill="url(#bg4)"/><ellipse cx="553.45" cy="311.00" rx="2.62" ry="1.18" fill="#8c4cdc"/><path d="M442.18,425.46L440.68,383.46A2.43,1.09 0 0 1 445.54,383.46L446.82,425.46A2.32,1.04 0 0 1 442.18,425.46Z" fill="url(#bg1)"/><ellipse cx="443.11" cy="383.46" rx="2.43" ry="1.09" fill="#3a4ad8"/><path d="M579.40,426.43L587.66,293.43A2.68,1.21 0 0 1 593.03,293.43L584.04,426.43A2.32,1.04 0 0 1 579.40,426.43Z" fill="url(#bg5)"/><ellipse cx="590.34" cy="293.43" rx="2.68" ry="1.21" fill="#10b078"/><path d="M474.95,426.62L474.16,362.18A2.50,1.13 0 0 1 479.16,362.18L479.60,426.62A2.33,1.05 0 0 1 474.95,426.62Z" fill="url(#bg2)"/><ellipse cx="476.66" cy="362.18" rx="2.50" ry="1.13" fill="#d0005c"/><path d="M507.88,427.80L508.85,341.21A2.57,1.16 0 0 1 513.99,341.21L512.55,427.80A2.34,1.05 0 0 1 507.88,427.80Z" fill="url(#bg3)"/><ellipse cx="511.42" cy="341.21" rx="2.57" ry="1.16" fill="#c4bc4a"/><path d="M402.91,427.99L401.95,413.00A2.38,1.07 0 0 1 406.72,413.00L407.59,427.99A2.34,1.05 0 0 1 402.91,427.99Z" fill="url(#bg0)"/><ellipse cx="404.33" cy="413.00" rx="2.38" ry="1.07" fill="#9a9a9a"/><path d="M540.97,428.97L544.73,321.11A2.64,1.19 0 0 1 550.01,321.11L545.67,428.97A2.35,1.06 0 0 1 540.97,428.97Z" fill="url(#bg4)"/><ellipse cx="547.37" cy="321.11" rx="2.64" ry="1.19" fill="#8c4cdc"/><path d="M435.79,429.17L434.33,392.94A2.45,1.10 0 0 1 439.23,392.94L440.49,429.17A2.35,1.06 0 0 1 435.79,429.17Z" fill="url(#bg1)"/><ellipse cx="436.78" cy="392.94" rx="2.45" ry="1.10" fill="#3a4ad8"/><path d="M574.24,430.16L581.66,303.45A2.71,1.22 0 0 1 587.07,303.45L578.95,430.16A2.36,1.06 0 0 1 574.24,430.16Z" fill="url(#bg5)"/><ellipse cx="584.36" cy="303.45" rx="2.71" ry="1.22" fill="#10b078"/><path d="M468.84,430.36L467.86,371.99A2.52,1.13 0 0 1 472.90,371.99L473.56,430.36A2.36,1.06 0 0 1 468.84,430.36Z" fill="url(#bg2)"/><ellipse cx="470.38" cy="371.99" rx="2.52" ry="1.13" fill="#d0005c"/><path d="M502.05,431.55L502.61,351.28A2.59,1.17 0 0 1 507.80,351.28L506.79,431.55A2.37,1.07 0 0 1 502.05,431.55Z" fill="url(#bg3)"/><ellipse cx="505.21" cy="351.28" rx="2.59" ry="1.17" fill="#c4bc4a"/><path d="M396.12,431.76L395.46,422.23A2.40,1.08 0 0 1 400.27,422.23L400.87,431.76A2.38,1.07 0 0 1 396.12,431.76Z" fill="url(#bg0)"/><ellipse cx="397.86" cy="422.23" rx="2.40" ry="1.08" fill="#9a9a9a"/><path d="M535.43,432.75L538.57,331.32A2.66,1.20 0 0 1 543.89,331.32L540.19,432.75A2.38,1.07 0 0 1 535.43,432.75Z" fill="url(#bg4)"/><ellipse cx="541.23" cy="331.32" rx="2.66" ry="1.20" fill="#8c4cdc"/><path d="M429.28,432.96L427.91,402.51A2.47,1.11 0 0 1 432.85,402.51L434.05,432.96A2.39,1.07 0 0 1 429.28,432.96Z" fill="url(#bg1)"/><ellipse cx="430.38" cy="402.51" rx="2.47" ry="1.11" fill="#3a4ad8"/><path d="M568.98,433.95L575.60,313.58A2.73,1.23 0 0 1 581.05,313.58L573.76,433.95A2.39,1.08 0 0 1 568.98,433.95Z" fill="url(#bg5)"/><ellipse cx="578.32" cy="313.58" rx="2.73" ry="1.23" fill="#10b078"/><path d="M462.61,434.16L461.51,381.91A2.54,1.14 0 0 1 466.59,381.91L467.40,434.16A2.40,1.08 0 0 1 462.61,434.16Z" fill="url(#bg2)"/><ellipse cx="464.05" cy="381.91" rx="2.54" ry="1.14" fill="#d0005c"/><path d="M496.12,435.38L496.32,361.45A2.61,1.18 0 0 1 501.55,361.45L500.93,435.38A2.41,1.08 0 0 1 496.12,435.38Z" fill="url(#bg3)"/><ellipse cx="498.93" cy="361.45" rx="2.61" ry="1.18" fill="#c4bc4a"/><path d="M389.20,435.59L388.91,431.55A2.42,1.09 0 0 1 393.75,431.55L394.03,435.59A2.41,1.09 0 0 1 389.20,435.59Z" fill="url(#bg0)"/><ellipse cx="391.33" cy="431.55" rx="2.42" ry="1.09" fill="#9a9a9a"/><path d="M529.79,436.59L532.34,341.63A2.68,1.21 0 0 1 537.71,341.63L534.62,436.59A2.42,1.09 0 0 1 529.79,436.59Z" fill="url(#bg4)"/><ellipse cx="535.03" cy="341.63" rx="2.68" ry="1.21" fill="#8c4cdc"/><path d="M422.65,436.81L421.43,412.18A2.49,1.12 0 0 1 426.40,412.18L427.50,436.81A2.42,1.09 0 0 1 422.65,436.81Z" fill="url(#bg1)"/><ellipse cx="423.91" cy="412.18" rx="2.49" ry="1.12" fill="#3a4ad8"/><path d="M563.63,437.82L569.47,323.82A2.75,1.24 0 0 1 574.97,323.82L568.48,437.82A2.42,1.09 0 0 1 563.63,437.82Z" fill="url(#bg5)"/><ellipse cx="572.22" cy="323.82" rx="2.75" ry="1.24" fill="#10b078"/><path d="M456.28,438.04L455.08,391.92A2.56,1.15 0 0 1 460.21,391.92L461.14,438.04A2.43,1.09 0 0 1 456.28,438.04Z" fill="url(#bg2)"/><ellipse cx="457.65" cy="391.92" rx="2.56" ry="1.15" fill="#d0005c"/><path d="M490.07,439.27L489.96,371.72A2.63,1.18 0 0 1 495.23,371.72L494.95,439.27A2.44,1.10 0 0 1 490.07,439.27Z" fill="url(#bg3)"/><ellipse cx="492.60" cy="371.72" rx="2.63" ry="1.18" fill="#c4bc4a"/><path d="M524.04,440.51L526.06,352.05A2.71,1.22 0 0 1 531.47,352.05L528.94,440.51A2.45,1.10 0 0 1 524.04,440.51Z" fill="url(#bg4)"/><ellipse cx="528.76" cy="352.05" rx="2.71" ry="1.22" fill="#8c4cdc"/><path d="M415.91,440.74L414.87,421.96A2.51,1.13 0 0 1 419.89,421.96L420.82,440.74A2.46,1.11 0 0 1 415.91,440.74Z" fill="url(#bg1)"/><ellipse cx="417.38" cy="421.96" rx="2.51" ry="1.13" fill="#3a4ad8"/><path d="M558.18,441.76L563.29,334.16A2.77,1.25 0 0 1 568.83,334.16L563.10,441.76A2.46,1.11 0 0 1 558.18,441.76Z" fill="url(#bg5)"/><ellipse cx="566.06" cy="334.16" rx="2.77" ry="1.25" fill="#10b078"/><path d="M449.82,441.98L448.60,402.03A2.58,1.16 0 0 1 453.76,402.03L454.76,441.98A2.47,1.11 0 0 1 449.82,441.98Z" fill="url(#bg2)"/><ellipse cx="451.18" cy="402.03" rx="2.58" ry="1.16" fill="#d0005c"/><path d="M483.91,443.24L483.54,382.10A2.65,1.19 0 0 1 488.85,382.10L488.87,443.24A2.48,1.11 0 0 1 483.91,443.24Z" fill="url(#bg3)"/><ellipse cx="486.20" cy="382.10" rx="2.65" ry="1.19" fill="#c4bc4a"/><path d="M518.18,444.50L519.71,362.57A2.73,1.23 0 0 1 525.17,362.57L523.16,444.50A2.49,1.12 0 0 1 518.18,444.50Z" fill="url(#bg4)"/><ellipse cx="522.44" cy="362.57" rx="2.73" ry="1.23" fill="#8c4cdc"/><path d="M409.03,444.73L408.25,431.83A2.53,1.14 0 0 1 413.32,431.83L414.02,444.73A2.49,1.12 0 0 1 409.03,444.73Z" fill="url(#bg1)"/><ellipse cx="410.79" cy="431.83" rx="2.53" ry="1.14" fill="#3a4ad8"/><path d="M552.63,445.77L557.03,344.61A2.80,1.26 0 0 1 562.63,344.61L557.62,445.77A2.50,1.12 0 0 1 552.63,445.77Z" fill="url(#bg5)"/><ellipse cx="559.83" cy="344.61" rx="2.80" ry="1.26" fill="#10b078"/><path d="M443.25,446.00L442.05,412.25A2.60,1.17 0 0 1 447.25,412.25L448.25,446.00A2.50,1.13 0 0 1 443.25,446.00Z" fill="url(#bg2)"/><ellipse cx="444.65" cy="412.25" rx="2.60" ry="1.17" fill="#d0005c"/><path d="M477.64,447.28L477.06,392.58A2.68,1.20 0 0 1 482.41,392.58L482.67,447.28A2.51,1.13 0 0 1 477.64,447.28Z" fill="url(#bg3)"/><ellipse cx="479.74" cy="392.58" rx="2.68" ry="1.20" fill="#c4bc4a"/><path d="M512.21,448.56L513.30,373.20A2.75,1.24 0 0 1 518.80,373.20L517.26,448.56A2.53,1.14 0 0 1 512.21,448.56Z" fill="url(#bg4)"/><ellipse cx="516.05" cy="373.20" rx="2.75" ry="1.24" fill="#8c4cdc"/><path d="M546.97,449.85L550.72,355.16A2.82,1.27 0 0 1 556.36,355.16L552.04,449.85A2.54,1.14 0 0 1 546.97,449.85Z" fill="url(#bg5)"/><ellipse cx="553.54" cy="355.16" rx="2.82" ry="1.27" fill="#10b078"/><path d="M436.54,450.10L435.43,422.57A2.62,1.18 0 0 1 440.68,422.57L441.63,450.10A2.54,1.14 0 0 1 436.54,450.10Z" fill="url(#bg2)"/><ellipse cx="438.06" cy="422.57" rx="2.62" ry="1.18" fill="#d0005c"/><path d="M471.25,451.40L470.51,403.16A2.70,1.21 0 0 1 475.90,403.16L476.35,451.40A2.55,1.15 0 0 1 471.25,451.40Z" fill="url(#bg3)"/><ellipse cx="473.21" cy="403.16" rx="2.70" ry="1.21" fill="#c4bc4a"/><path d="M506.13,452.70L506.82,383.93A2.77,1.25 0 0 1 512.36,383.93L511.26,452.70A2.56,1.15 0 0 1 506.13,452.70Z" fill="url(#bg4)"/><ellipse cx="509.59" cy="383.93" rx="2.77" ry="1.25" fill="#8c4cdc"/><path d="M541.20,454.02L544.33,365.83A2.84,1.28 0 0 1 550.02,365.83L546.35,454.02A2.57,1.16 0 0 1 541.20,454.02Z" fill="url(#bg5)"/><ellipse cx="547.18" cy="365.83" rx="2.84" ry="1.28" fill="#10b078"/><path d="M429.72,454.27L428.75,432.99A2.65,1.19 0 0 1 434.04,432.99L434.88,454.27A2.58,1.16 0 0 1 429.72,454.27Z" fill="url(#bg2)"/><ellipse cx="431.39" cy="432.99" rx="2.65" ry="1.19" fill="#d0005c"/><path d="M464.73,455.60L463.89,413.85A2.72,1.22 0 0 1 469.33,413.85L469.92,455.60A2.59,1.17 0 0 1 464.73,455.60Z" fill="url(#bg3)"/><ellipse cx="466.61" cy="413.85" rx="2.72" ry="1.22" fill="#c4bc4a"/><path d="M499.93,456.93L500.28,394.77A2.79,1.26 0 0 1 505.87,394.77L505.14,456.93A2.60,1.17 0 0 1 499.93,456.93Z" fill="url(#bg4)"/><ellipse cx="503.07" cy="394.77" rx="2.79" ry="1.26" fill="#8c4cdc"/><path d="M535.32,458.26L537.88,376.61A2.87,1.29 0 0 1 543.62,376.61L540.55,458.26A2.61,1.18 0 0 1 535.32,458.26Z" fill="url(#bg5)"/><ellipse cx="540.75" cy="376.61" rx="2.87" ry="1.29" fill="#10b078"/><path d="M458.09,459.87L457.21,424.65A2.74,1.23 0 0 1 462.69,424.65L463.36,459.87A2.63,1.18 0 0 1 458.09,459.87Z" fill="url(#bg3)"/><ellipse cx="459.95" cy="424.65" rx="2.74" ry="1.23" fill="#c4bc4a"/><path d="M493.62,461.23L493.67,405.73A2.82,1.27 0 0 1 499.30,405.73L498.90,461.23A2.64,1.19 0 0 1 493.62,461.23Z" fill="url(#bg4)"/><ellipse cx="496.48" cy="405.73" rx="2.82" ry="1.27" fill="#8c4cdc"/><path d="M529.33,462.59L531.36,387.51A2.89,1.30 0 0 1 537.15,387.51L534.64,462.59A2.65,1.19 0 0 1 529.33,462.59Z" fill="url(#bg5)"/><ellipse cx="534.25" cy="387.51" rx="2.89" ry="1.30" fill="#10b078"/><path d="M451.32,464.24L450.46,435.56A2.76,1.24 0 0 1 455.99,435.56L456.67,464.24A2.67,1.20 0 0 1 451.32,464.24Z" fill="url(#bg3)"/><ellipse cx="453.22" cy="435.56" rx="2.76" ry="1.24" fill="#c4bc4a"/><path d="M487.17,465.62L486.99,416.80A2.84,1.28 0 0 1 492.67,416.80L492.54,465.62A2.68,1.21 0 0 1 487.17,465.62Z" fill="url(#bg4)"/><ellipse cx="489.83" cy="416.80" rx="2.84" ry="1.28" fill="#8c4cdc"/><path d="M523.22,467.00L524.77,398.52A2.92,1.31 0 0 1 530.61,398.52L528.62,467.00A2.70,1.21 0 0 1 523.22,467.00Z" fill="url(#bg5)"/><ellipse cx="527.69" cy="398.52" rx="2.92" ry="1.31" fill="#10b078"/><path d="M480.61,470.09L480.24,427.98A2.86,1.29 0 0 1 485.97,427.98L486.06,470.09A2.73,1.23 0 0 1 480.61,470.09Z" fill="url(#bg4)"/><ellipse cx="483.10" cy="427.98" rx="2.86" ry="1.29" fill="#8c4cdc"/><path d="M516.99,471.50L518.11,409.65A2.94,1.32 0 0 1 524.00,409.65L522.47,471.50A2.74,1.23 0 0 1 516.99,471.50Z" fill="url(#bg5)"/><ellipse cx="521.05" cy="409.65" rx="2.94" ry="1.32" fill="#10b078"/><path d="M473.90,474.65L473.42,439.28A2.89,1.30 0 0 1 479.20,439.28L479.45,474.65A2.77,1.25 0 0 1 473.90,474.65Z" fill="url(#bg4)"/><ellipse cx="476.31" cy="439.28" rx="2.89" ry="1.30" fill="#8c4cdc"/><path d="M510.64,476.09L511.38,420.90A2.97,1.34 0 0 1 517.31,420.90L516.21,476.09A2.78,1.25 0 0 1 510.64,476.09Z" fill="url(#bg5)"/><ellipse cx="514.35" cy="420.90" rx="2.97" ry="1.34" fill="#10b078"/><path d="M504.15,480.77L504.57,432.27A2.99,1.35 0 0 1 510.56,432.27L509.81,480.77A2.83,1.27 0 0 1 504.15,480.77Z" fill="url(#bg5)"/><ellipse cx="507.57" cy="432.27" rx="2.99" ry="1.35" fill="#10b078"/><path d="M497.54,485.55L497.69,443.77A3.02,1.36 0 0 1 503.73,443.77L503.29,485.55A2.87,1.29 0 0 1 497.54,485.55Z" fill="url(#bg5)"/><ellipse cx="500.71" cy="443.77" rx="3.02" ry="1.36" fill="#10b078"/><path d="M375.38,435.46L505.16,496.09" stroke="#3c3c3c" stroke-width="1.05" fill="none"/><path d="M505.16,496.09L602.58,423.14" stroke="#484848" stroke-width="1.0" fill="none"/><path d="M384.33,439.65L382.13,441.85" stroke="#444" stroke-width="0.8" fill="none"/><path d="M404.28,448.97L402.08,451.17" stroke="#444" stroke-width="0.8" fill="none"/><path d="M425.10,458.69L422.90,460.89" stroke="#444" stroke-width="0.8" fill="none"/><path d="M446.86,468.86L444.66,471.06" stroke="#444" stroke-width="0.8" fill="none"/><path d="M469.62,479.49L467.42,481.69" stroke="#444" stroke-width="0.8" fill="none"/><path d="M493.44,490.62L491.24,492.82" stroke="#444" stroke-width="0.8" fill="none"/><path d="M512.08,490.91L513.64,492.99" stroke="#444" stroke-width="0.7" fill="none"/><path d="M518.60,486.02L519.56,487.30" stroke="#444" stroke-width="0.7" fill="none"/><path d="M525.00,481.24L525.96,482.52" stroke="#444" stroke-width="0.7" fill="none"/><path d="M531.26,476.55L532.82,478.63" stroke="#444" stroke-width="0.7" fill="none"/><path d="M537.40,471.95L538.36,473.23" stroke="#444" stroke-width="0.7" fill="none"/><path d="M543.42,467.44L544.38,468.72" stroke="#444" stroke-width="0.7" fill="none"/><path d="M549.32,463.02L550.88,465.10" stroke="#444" stroke-width="0.7" fill="none"/><path d="M555.11,458.69L556.07,459.97" stroke="#444" stroke-width="0.7" fill="none"/><path d="M560.79,454.43L561.75,455.71" stroke="#444" stroke-width="0.7" fill="none"/><path d="M566.36,450.26L567.92,452.34" stroke="#444" stroke-width="0.7" fill="none"/><path d="M571.83,446.17L572.79,447.45" stroke="#444" stroke-width="0.7" fill="none"/><path d="M577.19,442.15L578.15,443.43" stroke="#444" stroke-width="0.7" fill="none"/><path d="M582.46,438.21L584.02,440.29" stroke="#444" stroke-width="0.7" fill="none"/><path d="M587.63,434.33L588.59,435.61" stroke="#444" stroke-width="0.7" fill="none"/><path d="M592.71,430.53L593.67,431.81" stroke="#444" stroke-width="0.7" fill="none"/><path d="M597.69,426.80L599.25,428.88" stroke="#444" stroke-width="0.7" fill="none"/><text transform="matrix(0.9135,-0.4067,-0.0698,0.9976,37.60,299.80)" text-anchor="middle" dominant-baseline="central" font-size="8.4" font-weight="bold" stroke="#000" stroke-width="0.2">8x10<tspan font-size="5.4" dy="-3.4">4</tspan></text><text transform="matrix(0.9135,-0.4067,-0.0698,0.9976,39.50,320.40)" text-anchor="middle" dominant-baseline="central" font-size="8.4" font-weight="bold" stroke="#000" stroke-width="0.2">7x10<tspan font-size="5.4" dy="-3.4">4</tspan></text><text transform="matrix(0.9135,-0.4067,-0.0698,0.9976,42.50,339.70)" text-anchor="middle" dominant-baseline="central" font-size="8.4" font-weight="bold" stroke="#000" stroke-width="0.2">6x10<tspan font-size="5.4" dy="-3.4">4</tspan></text><text transform="matrix(0.9135,-0.4067,-0.0698,0.9976,44.40,357.40)" text-anchor="middle" dominant-baseline="central" font-size="8.4" font-weight="bold" stroke="#000" stroke-width="0.2">5x10<tspan font-size="5.4" dy="-3.4">4</tspan></text><text transform="matrix(0.9135,-0.4067,-0.0698,0.9976,46.90,376.70)" text-anchor="middle" dominant-baseline="central" font-size="8.4" font-weight="bold" stroke="#000" stroke-width="0.2">4x10<tspan font-size="5.4" dy="-3.4">4</tspan></text><text transform="matrix(0.9135,-0.4067,-0.0698,0.9976,48.40,393.10)" text-anchor="middle" dominant-baseline="central" font-size="8.4" font-weight="bold" stroke="#000" stroke-width="0.2">3x10<tspan font-size="5.4" dy="-3.4">4</tspan></text><text transform="matrix(0.9135,-0.4067,-0.0698,0.9976,50.20,410.70)" text-anchor="middle" dominant-baseline="central" font-size="8.4" font-weight="bold" stroke="#000" stroke-width="0.2">2x10<tspan font-size="5.4" dy="-3.4">4</tspan></text><text transform="matrix(0.9135,-0.4067,-0.0698,0.9976,52.10,426.40)" text-anchor="middle" dominant-baseline="central" font-size="8.4" font-weight="bold" stroke="#000" stroke-width="0.2">1x10<tspan font-size="5.4" dy="-3.4">4</tspan></text><text transform="matrix(0.9135,-0.4067,-0.0698,0.9976,59.60,437.40)" text-anchor="middle" dominant-baseline="central" font-size="8.4" font-weight="bold" stroke="#000" stroke-width="0.2">0</text><text transform="translate(26.60,382.00) rotate(-95.2)" text-anchor="middle" dominant-baseline="central" font-size="8.0" font-weight="bold" textLength="105" lengthAdjust="spacingAndGlyphs">Phase sensitivity (deg/RIU)</text><text transform="matrix(0.8090,-0.5878,0.8910,0.4540,69.20,442.60)" text-anchor="middle" dominant-baseline="central" font-size="8.0" font-weight="bold">0</text><text transform="matrix(0.8090,-0.5878,0.8910,0.4540,88.40,451.60)" text-anchor="middle" dominant-baseline="central" font-size="8.0" font-weight="bold">1</text><text transform="matrix(0.8090,-0.5878,0.8910,0.4540,107.60,462.40)" text-anchor="middle" dominant-baseline="central" font-size="8.0" font-weight="bold">2</text><text transform="matrix(0.8090,-0.5878,0.8910,0.4540,127.90,473.00)" text-anchor="middle" dominant-baseline="central" font-size="8.0" font-weight="bold">3</text><text transform="matrix(0.8090,-0.5878,0.8910,0.4540,148.20,483.90)" text-anchor="middle" dominant-baseline="central" font-size="8.0" font-weight="bold">4</text><text transform="matrix(0.8090,-0.5878,0.8910,0.4540,170.80,494.50)" text-anchor="middle" dominant-baseline="central" font-size="8.0" font-weight="bold">5</text><text transform="matrix(0.8846,0.4664,-0.7660,0.6428,109.80,475.30)" text-anchor="middle" dominant-baseline="central" font-size="8.9" font-weight="bold" textLength="95" lengthAdjust="spacingAndGlyphs">Number of Tellurene layer</text><text transform="matrix(0.8910,0.4540,-0.7383,0.5979,200.80,500.90)" text-anchor="middle" dominant-baseline="central" font-size="7.4" font-weight="bold">115</text><text transform="matrix(0.8910,0.4540,-0.7383,0.5979,220.90,485.50)" text-anchor="middle" dominant-baseline="central" font-size="7.4" font-weight="bold">118</text><text transform="matrix(0.8910,0.4540,-0.7383,0.5979,238.80,468.60)" text-anchor="middle" dominant-baseline="central" font-size="7.4" font-weight="bold">121</text><text transform="matrix(0.8910,0.4540,-0.7383,0.5979,256.80,453.80)" text-anchor="middle" dominant-baseline="central" font-size="7.4" font-weight="bold">124</text><text transform="matrix(0.8910,0.4540,-0.7383,0.5979,274.70,440.10)" text-anchor="middle" dominant-baseline="central" font-size="7.4" font-weight="bold">127</text><text transform="matrix(0.8910,0.4540,-0.7383,0.5979,291.60,427.40)" text-anchor="middle" dominant-baseline="central" font-size="7.4" font-weight="bold">130</text><text transform="matrix(0.7771,-0.6293,0.8539,0.4165,262.60,470.20)" text-anchor="middle" dominant-baseline="central" font-size="8.2" font-weight="bold" textLength="72" lengthAdjust="spacingAndGlyphs">Thickness of ITO (nm)</text><text x="269.5" y="262.3" font-size="20">c</text><text transform="matrix(0.9903,-0.1392,0.1392,0.9903,355.80,286.60)" text-anchor="middle" dominant-baseline="central" font-size="8.6" font-weight="bold" stroke="#000" stroke-width="0.15">69</text><text transform="matrix(0.9135,-0.4067,-0.1045,0.9945,358.60,310.30)" text-anchor="middle" dominant-baseline="central" font-size="8.4" font-weight="bold" stroke="#000" stroke-width="0.2">67</text><text transform="matrix(0.9135,-0.4067,-0.1045,0.9945,360.10,334.30)" text-anchor="middle" dominant-baseline="central" font-size="8.4" font-weight="bold" stroke="#000" stroke-width="0.2">65</text><text transform="matrix(0.9135,-0.4067,-0.1045,0.9945,361.50,356.20)" text-anchor="middle" dominant-baseline="central" font-size="8.4" font-weight="bold" stroke="#000" stroke-width="0.2">63</text><text transform="matrix(0.9135,-0.4067,-0.1045,0.9945,363.40,378.60)" text-anchor="middle" dominant-baseline="central" font-size="8.4" font-weight="bold" stroke="#000" stroke-width="0.2">61</text><text transform="matrix(0.9135,-0.4067,-0.1045,0.9945,365.30,399.90)" text-anchor="middle" dominant-baseline="central" font-size="8.4" font-weight="bold" stroke="#000" stroke-width="0.2">59</text><text transform="matrix(0.9135,-0.4067,-0.1045,0.9945,368.10,420.10)" text-anchor="middle" dominant-baseline="central" font-size="8.4" font-weight="bold" stroke="#000" stroke-width="0.2">57</text><text transform="matrix(0.9135,-0.4067,-0.1045,0.9945,369.50,439.70)" text-anchor="middle" dominant-baseline="central" font-size="8.4" font-weight="bold" stroke="#000" stroke-width="0.2">55</text><text transform="translate(351.50,371.00) rotate(-93.9)" text-anchor="middle" dominant-baseline="central" font-size="8.0" font-weight="bold" textLength="105" lengthAdjust="spacingAndGlyphs">Angle sensitivity (deg/RIU)</text><text transform="matrix(0.8290,-0.5592,0.9063,0.4226,380.20,443.70)" text-anchor="middle" dominant-baseline="central" font-size="8.0" font-weight="bold">0</text><text transform="matrix(0.8290,-0.5592,0.9063,0.4226,399.30,453.40)" text-anchor="middle" dominant-baseline="central" font-size="8.0" font-weight="bold">1</text><text transform="matrix(0.8290,-0.5592,0.9063,0.4226,420.80,462.90)" text-anchor="middle" dominant-baseline="central" font-size="8.0" font-weight="bold">2</text><text transform="matrix(0.8290,-0.5592,0.9063,0.4226,441.80,473.50)" text-anchor="middle" dominant-baseline="central" font-size="8.0" font-weight="bold">3</text><text transform="matrix(0.8290,-0.5592,0.9063,0.4226,465.90,484.30)" text-anchor="middle" dominant-baseline="central" font-size="8.0" font-weight="bold">4</text><text transform="matrix(0.8290,-0.5592,0.9063,0.4226,490.80,494.90)" text-anchor="middle" dominant-baseline="central" font-size="8.0" font-weight="bold">5</text><text transform="matrix(0.9003,0.4352,-0.7880,0.6157,424.80,476.40)" text-anchor="middle" dominant-baseline="central" font-size="8.9" font-weight="bold" textLength="101" lengthAdjust="spacingAndGlyphs">Numbers of Tellurene layer</text><text transform="matrix(0.9100,0.4147,-0.7537,0.5783,522.20,497.50)" text-anchor="middle" dominant-baseline="central" font-size="7.4" font-weight="bold">115</text><text transform="matrix(0.9100,0.4147,-0.7537,0.5783,541.80,482.70)" text-anchor="middle" dominant-baseline="central" font-size="7.4" font-weight="bold">118</text><text transform="matrix(0.9100,0.4147,-0.7537,0.5783,559.50,467.90)" text-anchor="middle" dominant-baseline="central" font-size="7.4" font-weight="bold">121</text><text transform="matrix(0.9100,0.4147,-0.7537,0.5783,577.00,455.30)" text-anchor="middle" dominant-baseline="central" font-size="7.4" font-weight="bold">124</text><text transform="matrix(0.9100,0.4147,-0.7537,0.5783,591.80,442.20)" text-anchor="middle" dominant-baseline="central" font-size="7.4" font-weight="bold">127</text><text transform="matrix(0.9100,0.4147,-0.7537,0.5783,608.60,431.20)" text-anchor="middle" dominant-baseline="central" font-size="7.4" font-weight="bold">130</text><text transform="matrix(0.7934,-0.6088,0.8679,0.3864,584.40,469.60)" text-anchor="middle" dominant-baseline="central" font-size="8.2" font-weight="bold" textLength="72" lengthAdjust="spacingAndGlyphs">Thickness of ITO (nm)</text><text x="594.5" y="257.4" font-size="19.5">d</text></svg>
</body></html>
